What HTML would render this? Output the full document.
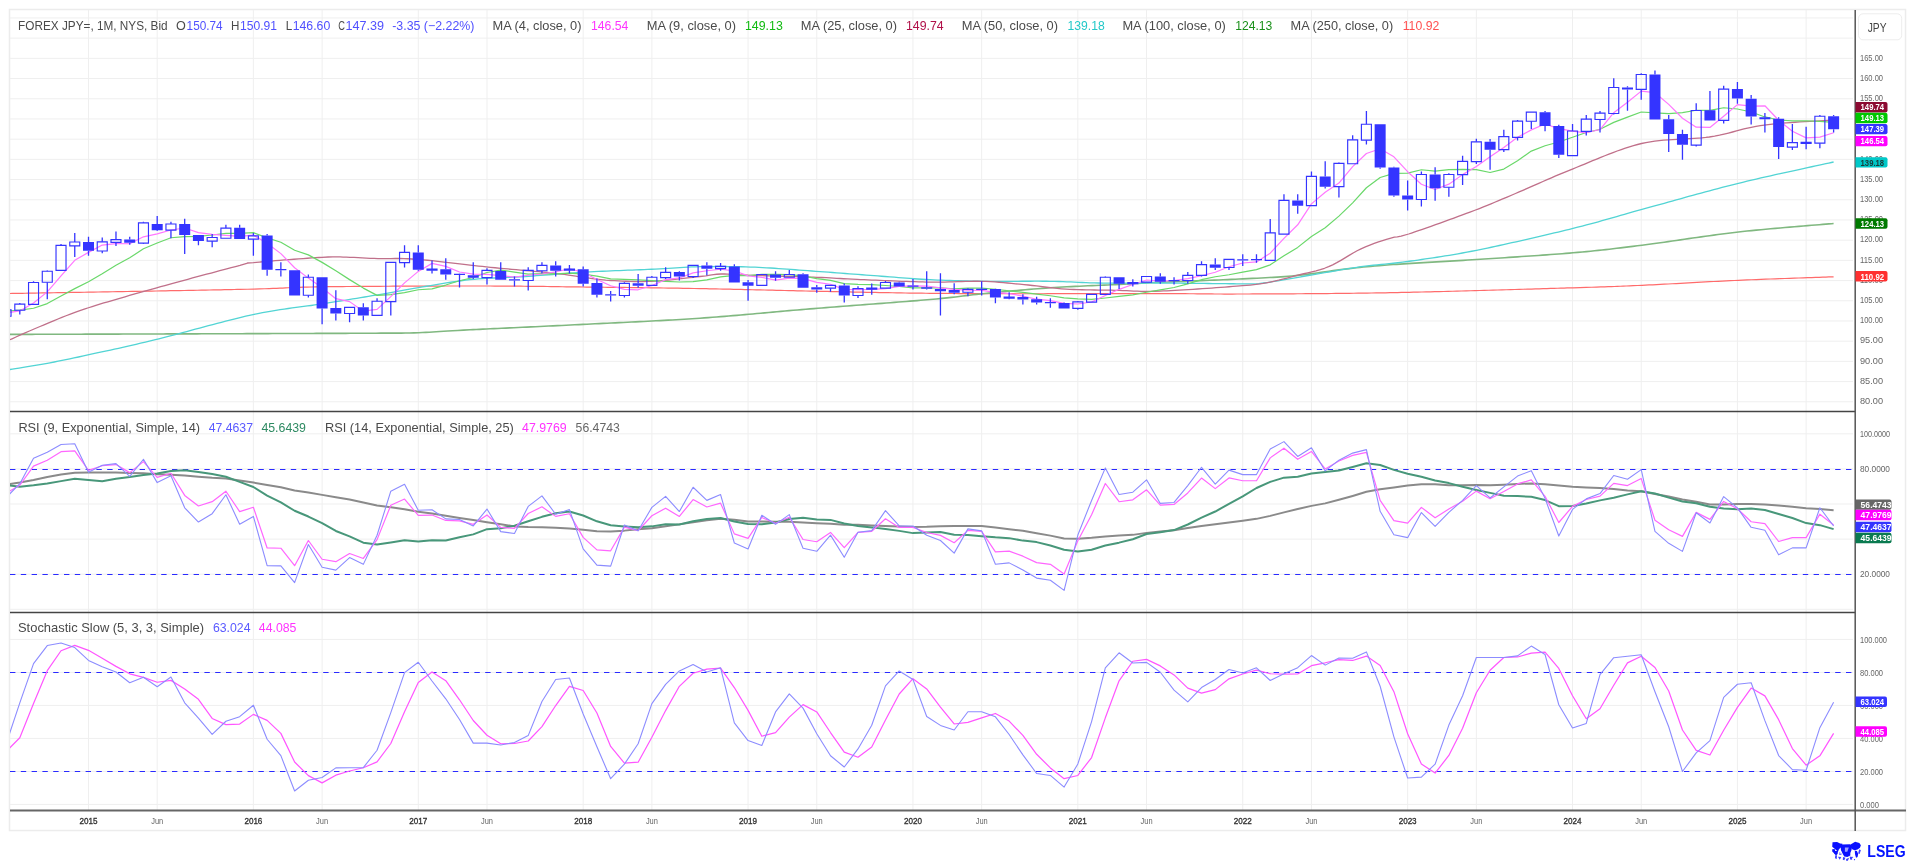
<!DOCTYPE html>
<html><head><meta charset="utf-8"><style>
html,body{margin:0;padding:0;background:#fff;width:1916px;height:862px;overflow:hidden;position:relative}
svg{will-change:transform}
</style></head><body>
<svg width="1916" height="862" viewBox="0 0 1916 862" style="position:absolute;left:0;top:0"><defs><clipPath id="cm"><rect x="10" y="10" width="1845" height="401"/></clipPath><clipPath id="cr"><rect x="10" y="412" width="1845" height="200"/></clipPath><clipPath id="cs"><rect x="10" y="613" width="1845" height="197"/></clipPath></defs><rect width="1916" height="862" fill="#fff"/><rect x="9.5" y="9.5" width="1896.0" height="821.0" fill="none" stroke="#ececec" stroke-width="1.5"/><path d="M10 401.78H1853M10 381.57H1853M10 361.37H1853M10 341.17H1853M10 320.97H1853M10 300.77H1853M10 280.57H1853M10 260.37H1853M10 240.16H1853M10 219.96H1853M10 199.76H1853M10 179.56H1853M10 159.36H1853M10 139.16H1853M10 118.95H1853M10 98.75H1853M10 78.55H1853M10 58.35H1853M10 38.15H1853M10 17.95H1853M10 433.8H1853M10 468.9H1853M10 504H1853M10 539.1H1853M10 574.2H1853M10 609.3H1853M10 639.4H1853M10 672.4H1853M10 705.4H1853M10 738.4H1853M10 771.4H1853M10 804.4H1853M88.5 10V810M157.2 10V810M253.39 10V810M322.1 10V810M418.28 10V810M486.99 10V810M583.18 10V810M651.88 10V810M748.07 10V810M816.77 10V810M912.96 10V810M981.66 10V810M1077.85 10V810M1146.56 10V810M1242.74 10V810M1311.45 10V810M1407.64 10V810M1476.34 10V810M1572.53 10V810M1641.23 10V810M1737.42 10V810M1806.12 10V810" stroke="#efefef" stroke-width="1" fill="none"/><path d="M10 469.5H1856M10 672.5H1856M10 574.5H1856M10 771.5H1856" stroke="#2a2aff" stroke-width="1.2" stroke-dasharray="5.4 5.4" fill="none"/><g clip-path="url(#cm)"><path d="M10 293.5 L12.11 293.46 L14.4 293.42 L16.87 293.38 L19.5 293.33 L22.3 293.28 L25.25 293.23 L28.36 293.18 L31.61 293.12 L34.99 293.07 L38.51 293.01 L42.16 292.94 L45.92 292.88 L49.8 292.81 L53.78 292.75 L57.87 292.68 L62.05 292.6 L66.33 292.53 L70.68 292.46 L75.11 292.38 L79.61 292.3 L84.18 292.23 L88.81 292.15 L93.48 292.07 L98.21 291.99 L102.97 291.9 L107.77 291.82 L112.6 291.74 L117.44 291.65 L122.31 291.57 L127.18 291.49 L132.06 291.4 L136.93 291.32 L141.8 291.23 L146.65 291.15 L151.48 291.06 L156.28 290.98 L161.05 290.89 L165.78 290.81 L170.46 290.72 L175.09 290.64 L179.67 290.56 L184.18 290.48 L188.62 290.4 L192.98 290.32 L197.26 290.24 L201.46 290.16 L205.56 290.08 L209.56 290.01 L213.45 289.93 L217.23 289.86 L220.89 289.79 L224.42 289.72 L227.82 289.65 L231.09 289.59 L234.21 289.52 L237.18 289.46 L240 289.4 L247.35 289.23 L253.85 289.07 L259.59 288.91 L264.66 288.76 L269.12 288.6 L273.08 288.45 L276.62 288.31 L279.81 288.17 L282.74 288.03 L285.5 287.89 L288.17 287.76 L290.83 287.64 L293.57 287.52 L296.48 287.4 L299.62 287.29 L303.1 287.18 L307 287.08 L311.39 286.98 L316.36 286.89 L322 286.8 L325.14 286.76 L328.42 286.72 L331.81 286.67 L335.33 286.64 L338.95 286.6 L342.67 286.56 L346.49 286.52 L350.41 286.49 L354.4 286.46 L358.47 286.42 L362.61 286.39 L366.81 286.36 L371.07 286.33 L375.38 286.31 L379.74 286.28 L384.13 286.25 L388.55 286.23 L392.99 286.21 L397.45 286.19 L401.92 286.16 L406.4 286.15 L410.87 286.13 L415.33 286.11 L419.78 286.09 L424.2 286.08 L428.59 286.07 L432.95 286.05 L437.26 286.04 L441.53 286.03 L445.74 286.02 L449.88 286.02 L453.96 286.01 L457.96 286.01 L461.88 286 L465.71 286 L469.44 286 L473.07 286 L476.59 286 L480 286 L485.12 286.01 L490.06 286.02 L494.83 286.03 L499.43 286.05 L503.9 286.08 L508.23 286.1 L512.44 286.13 L516.54 286.17 L520.55 286.2 L524.49 286.24 L528.36 286.28 L532.17 286.33 L535.95 286.37 L539.7 286.42 L543.43 286.47 L547.17 286.52 L550.92 286.57 L554.7 286.63 L558.51 286.68 L562.38 286.73 L566.32 286.79 L570.34 286.84 L574.45 286.89 L578.66 286.95 L583 287 L586.74 287.04 L590.4 287.09 L593.98 287.13 L597.49 287.16 L600.96 287.2 L604.38 287.24 L607.77 287.28 L611.15 287.31 L614.52 287.35 L617.91 287.39 L621.31 287.42 L624.75 287.46 L628.23 287.5 L631.77 287.55 L635.38 287.59 L639.07 287.64 L642.85 287.69 L646.74 287.74 L650.75 287.8 L654.88 287.85 L659.17 287.92 L663.6 287.99 L668.2 288.06 L672.98 288.13 L677.96 288.22 L683.13 288.3 L688.52 288.4 L694.14 288.49 L700 288.6 L703.08 288.66 L706.22 288.72 L709.44 288.78 L712.71 288.85 L716.05 288.91 L719.45 288.99 L722.91 289.06 L726.42 289.14 L729.99 289.21 L733.61 289.3 L737.28 289.38 L741.01 289.46 L744.78 289.55 L748.59 289.64 L752.45 289.73 L756.36 289.82 L760.3 289.91 L764.28 290.01 L768.3 290.1 L772.35 290.2 L776.43 290.29 L780.55 290.39 L784.7 290.49 L788.87 290.59 L793.07 290.68 L797.29 290.78 L801.53 290.88 L805.8 290.98 L810.08 291.08 L814.38 291.18 L818.69 291.28 L823.02 291.38 L827.36 291.47 L831.71 291.57 L836.06 291.66 L840.42 291.76 L844.78 291.85 L849.15 291.94 L853.51 292.04 L857.88 292.12 L862.24 292.21 L866.59 292.3 L870.94 292.38 L875.28 292.46 L879.6 292.54 L883.92 292.62 L888.22 292.7 L892.5 292.77 L896.76 292.84 L901.01 292.91 L905.23 292.98 L909.43 293.04 L913.6 293.1 L917.75 293.15 L921.86 293.21 L925.95 293.25 L930 293.3 L934.06 293.34 L938.16 293.38 L942.3 293.42 L946.48 293.45 L950.69 293.49 L954.94 293.52 L959.22 293.54 L963.53 293.57 L967.86 293.59 L972.22 293.61 L976.6 293.63 L981 293.65 L985.42 293.67 L989.85 293.68 L994.29 293.69 L998.74 293.7 L1003.2 293.71 L1007.66 293.72 L1012.13 293.72 L1016.59 293.73 L1021.05 293.73 L1025.51 293.73 L1029.96 293.73 L1034.41 293.73 L1038.84 293.73 L1043.25 293.73 L1047.65 293.72 L1052.03 293.72 L1056.39 293.72 L1060.72 293.71 L1065.03 293.71 L1069.31 293.7 L1073.56 293.69 L1077.77 293.69 L1081.95 293.68 L1086.09 293.67 L1090.19 293.66 L1094.25 293.66 L1098.26 293.65 L1102.23 293.64 L1106.14 293.63 L1110 293.63 L1113.81 293.62 L1117.56 293.61 L1121.25 293.61 L1124.88 293.6 L1128.44 293.6 L1131.94 293.59 L1135.36 293.59 L1138.72 293.59 L1142 293.59 L1145.21 293.59 L1148.33 293.59 L1151.38 293.59 L1154.34 293.59 L1157.21 293.59 L1160 293.6 L1167.38 293.62 L1173.94 293.64 L1179.76 293.67 L1184.92 293.7 L1189.5 293.73 L1193.57 293.77 L1197.23 293.8 L1200.54 293.83 L1203.59 293.87 L1206.46 293.9 L1209.23 293.93 L1211.97 293.96 L1214.77 293.98 L1217.7 294 L1220.85 294.02 L1224.29 294.03 L1228.11 294.03 L1232.38 294.03 L1237.18 294.02 L1242.6 294 L1245.83 293.99 L1249.13 293.98 L1252.5 293.96 L1255.94 293.95 L1259.44 293.94 L1263 293.92 L1266.63 293.91 L1270.32 293.89 L1274.06 293.88 L1277.86 293.86 L1281.71 293.84 L1285.61 293.83 L1289.57 293.81 L1293.57 293.78 L1297.62 293.76 L1301.71 293.74 L1305.85 293.71 L1310.02 293.68 L1314.24 293.65 L1318.49 293.62 L1322.78 293.58 L1327.1 293.55 L1331.45 293.51 L1335.83 293.46 L1340.24 293.42 L1344.67 293.37 L1349.13 293.32 L1353.61 293.26 L1358.11 293.21 L1362.62 293.14 L1367.16 293.08 L1371.7 293.01 L1376.26 292.94 L1380.83 292.86 L1385.41 292.78 L1390 292.7 L1393.72 292.63 L1397.52 292.55 L1401.4 292.47 L1405.36 292.39 L1409.4 292.3 L1413.5 292.21 L1417.66 292.11 L1421.88 292.01 L1426.15 291.91 L1430.46 291.81 L1434.82 291.7 L1439.22 291.59 L1443.65 291.48 L1448.11 291.36 L1452.59 291.24 L1457.08 291.13 L1461.59 291.01 L1466.11 290.88 L1470.63 290.76 L1475.15 290.64 L1479.66 290.51 L1484.16 290.39 L1488.64 290.26 L1493.1 290.14 L1497.53 290.01 L1501.93 289.89 L1506.3 289.76 L1510.62 289.64 L1514.9 289.51 L1519.13 289.39 L1523.3 289.27 L1527.4 289.15 L1531.45 289.03 L1535.42 288.91 L1539.31 288.8 L1543.13 288.68 L1546.85 288.57 L1550.49 288.47 L1554.03 288.36 L1557.48 288.26 L1560.81 288.16 L1564.04 288.06 L1567.15 287.97 L1570.14 287.88 L1573 287.8 L1579.98 287.59 L1586.17 287.41 L1591.65 287.25 L1596.5 287.1 L1600.81 286.97 L1604.67 286.84 L1608.17 286.72 L1611.38 286.61 L1614.41 286.5 L1617.32 286.39 L1620.22 286.27 L1623.18 286.15 L1626.29 286.01 L1629.65 285.86 L1633.32 285.69 L1637.41 285.51 L1642 285.3 L1645.49 285.14 L1649.08 284.97 L1652.75 284.78 L1656.49 284.59 L1660.32 284.4 L1664.2 284.19 L1668.15 283.98 L1672.15 283.76 L1676.2 283.54 L1680.29 283.32 L1684.41 283.09 L1688.56 282.86 L1692.74 282.63 L1696.93 282.4 L1701.13 282.18 L1705.34 281.95 L1709.55 281.72 L1713.74 281.5 L1717.92 281.29 L1722.09 281.08 L1726.22 280.87 L1730.32 280.67 L1734.38 280.48 L1738.4 280.3 L1742.65 280.11 L1747.05 279.93 L1751.58 279.74 L1756.22 279.56 L1760.94 279.37 L1765.71 279.19 L1770.53 279.01 L1775.36 278.83 L1780.18 278.66 L1784.96 278.49 L1789.69 278.32 L1794.34 278.16 L1798.88 278 L1803.3 277.85 L1807.58 277.7 L1811.68 277.56 L1815.58 277.43 L1819.26 277.3 L1822.71 277.18 L1825.89 277.07 L1828.78 276.97 L1831.36 276.88 L1833.6 276.8" stroke="#ff6b6b" stroke-width="1.2" fill="none" stroke-linejoin="round" opacity="1.0"/><path d="M10 334.4 L12.11 334.39 L14.43 334.39 L16.93 334.38 L19.62 334.37 L22.48 334.36 L25.51 334.35 L28.7 334.34 L32.04 334.33 L35.53 334.32 L39.15 334.31 L42.89 334.3 L46.76 334.29 L50.73 334.28 L54.82 334.27 L58.99 334.25 L63.26 334.24 L67.6 334.23 L72.01 334.22 L76.49 334.2 L81.03 334.19 L85.61 334.17 L90.23 334.16 L94.88 334.15 L99.56 334.13 L104.25 334.12 L108.96 334.1 L113.66 334.09 L118.35 334.08 L123.03 334.06 L127.68 334.05 L132.3 334.03 L136.88 334.02 L141.41 334.01 L145.89 333.99 L150.31 333.98 L154.65 333.96 L158.91 333.95 L163.08 333.94 L167.16 333.92 L171.14 333.91 L175 333.9 L179.35 333.89 L183.75 333.87 L188.18 333.86 L192.63 333.84 L197.12 333.83 L201.62 333.81 L206.14 333.8 L210.66 333.78 L215.2 333.77 L219.73 333.75 L224.26 333.74 L228.78 333.72 L233.28 333.71 L237.77 333.69 L242.24 333.68 L246.67 333.66 L251.07 333.65 L255.44 333.63 L259.76 333.62 L264.03 333.6 L268.25 333.59 L272.42 333.57 L276.52 333.56 L280.56 333.54 L284.52 333.53 L288.41 333.52 L292.21 333.5 L295.93 333.49 L299.56 333.48 L303.09 333.47 L306.52 333.45 L309.85 333.44 L313.06 333.43 L316.16 333.42 L319.14 333.41 L322 333.4 L329.23 333.38 L335.54 333.36 L341.05 333.34 L345.85 333.33 L350.07 333.31 L353.81 333.3 L357.18 333.3 L360.3 333.29 L363.28 333.27 L366.23 333.26 L369.26 333.24 L372.48 333.22 L376 333.2 L380.68 333.17 L385.09 333.16 L389.31 333.15 L393.4 333.14 L397.41 333.12 L401.4 333.09 L405.45 333.04 L409.61 332.96 L413.94 332.85 L418.5 332.7 L422.28 332.55 L425.85 332.38 L429.3 332.2 L432.72 332 L436.21 331.79 L439.84 331.56 L443.73 331.31 L447.94 331.04 L452.59 330.76 L457.75 330.46 L463.53 330.14 L470 329.8 L473.01 329.65 L476.17 329.49 L479.46 329.33 L482.88 329.17 L486.42 329 L490.07 328.82 L493.83 328.64 L497.69 328.46 L501.63 328.28 L505.65 328.09 L509.75 327.9 L513.92 327.7 L518.14 327.51 L522.41 327.31 L526.72 327.1 L531.06 326.9 L535.44 326.7 L539.83 326.49 L544.23 326.28 L548.63 326.07 L553.03 325.86 L557.41 325.66 L561.77 325.45 L566.11 325.24 L570.41 325.03 L574.66 324.82 L578.86 324.61 L583 324.4 L586.97 324.2 L590.96 324 L594.97 323.81 L598.99 323.61 L603.02 323.42 L607.07 323.22 L611.12 323.03 L615.18 322.83 L619.25 322.64 L623.32 322.44 L627.4 322.25 L631.48 322.05 L635.56 321.85 L639.65 321.65 L643.73 321.44 L647.81 321.24 L651.88 321.03 L655.95 320.81 L660.02 320.6 L664.07 320.38 L668.12 320.16 L672.16 319.93 L676.18 319.7 L680.19 319.46 L684.19 319.22 L688.17 318.97 L692.13 318.72 L696.08 318.46 L700 318.2 L704.19 317.91 L708.35 317.61 L712.47 317.3 L716.58 316.99 L720.66 316.67 L724.72 316.34 L728.77 316.01 L732.8 315.67 L736.81 315.33 L740.82 314.99 L744.82 314.64 L748.82 314.28 L752.82 313.93 L756.81 313.57 L760.81 313.21 L764.81 312.85 L768.83 312.49 L772.85 312.12 L776.89 311.76 L780.94 311.4 L785.02 311.03 L789.11 310.67 L793.23 310.31 L797.38 309.95 L801.55 309.6 L805.76 309.25 L810 308.9 L813.88 308.59 L817.84 308.27 L821.89 307.95 L826 307.63 L830.17 307.3 L834.4 306.97 L838.67 306.64 L842.98 306.31 L847.31 305.98 L851.67 305.65 L856.03 305.32 L860.4 304.98 L864.76 304.65 L869.11 304.32 L873.44 303.99 L877.73 303.67 L881.99 303.34 L886.2 303.02 L890.35 302.7 L894.44 302.39 L898.46 302.07 L902.4 301.77 L906.25 301.46 L910 301.16 L913.65 300.87 L917.18 300.58 L920.59 300.3 L923.87 300.03 L927.01 299.76 L930 299.5 L936.33 298.93 L941.94 298.39 L946.93 297.88 L951.39 297.39 L955.43 296.93 L959.16 296.49 L962.67 296.05 L966.08 295.63 L969.47 295.21 L972.96 294.79 L976.64 294.37 L980.62 293.94 L985 293.5 L988.79 293.13 L992.65 292.76 L996.57 292.38 L1000.55 292 L1004.57 291.61 L1008.64 291.23 L1012.75 290.85 L1016.88 290.47 L1021.02 290.1 L1025.19 289.74 L1029.35 289.39 L1033.52 289.04 L1037.67 288.71 L1041.81 288.39 L1045.92 288.09 L1050 287.8 L1054.1 287.53 L1058.26 287.27 L1062.47 287.03 L1066.72 286.8 L1070.98 286.59 L1075.25 286.38 L1079.51 286.18 L1083.75 285.99 L1087.95 285.8 L1092.09 285.62 L1096.16 285.45 L1100.16 285.28 L1104.05 285.11 L1107.83 284.94 L1111.49 284.77 L1115 284.6 L1119.7 284.36 L1123.89 284.14 L1127.7 283.94 L1131.25 283.74 L1134.69 283.56 L1138.13 283.37 L1141.71 283.18 L1145.56 282.98 L1149.8 282.77 L1154.57 282.55 L1160 282.3 L1163.32 282.15 L1166.87 282 L1170.63 281.85 L1174.58 281.69 L1178.69 281.52 L1182.94 281.36 L1187.29 281.19 L1191.73 281.01 L1196.24 280.84 L1200.78 280.66 L1205.32 280.48 L1209.86 280.31 L1214.35 280.13 L1218.78 279.95 L1223.12 279.77 L1227.35 279.59 L1231.43 279.42 L1235.35 279.24 L1239.08 279.07 L1242.6 278.9 L1247.68 278.65 L1252.47 278.42 L1257.01 278.2 L1261.33 277.98 L1265.47 277.77 L1269.45 277.55 L1273.32 277.33 L1277.11 277.1 L1280.85 276.85 L1284.58 276.58 L1288.32 276.28 L1292.12 275.96 L1296 275.6 L1300.25 275.16 L1304.47 274.68 L1308.65 274.15 L1312.81 273.59 L1316.93 273.01 L1321.03 272.41 L1325.09 271.81 L1329.13 271.22 L1333.13 270.65 L1337.12 270.09 L1341.07 269.57 L1345 269.1 L1349.09 268.63 L1352.86 268.2 L1356.44 267.8 L1359.91 267.42 L1363.39 267.05 L1366.96 266.7 L1370.75 266.34 L1374.84 265.99 L1379.35 265.61 L1384.37 265.22 L1390 264.8 L1393.21 264.57 L1396.58 264.34 L1400.09 264.11 L1403.74 263.87 L1407.51 263.64 L1411.4 263.4 L1415.39 263.16 L1419.47 262.92 L1423.64 262.67 L1427.89 262.42 L1432.19 262.17 L1436.55 261.92 L1440.95 261.67 L1445.39 261.41 L1449.85 261.15 L1454.32 260.88 L1458.79 260.61 L1463.26 260.34 L1467.7 260.06 L1472.12 259.78 L1476.5 259.5 L1480.35 259.25 L1484.28 258.99 L1488.27 258.74 L1492.32 258.47 L1496.42 258.21 L1500.57 257.94 L1504.74 257.68 L1508.94 257.4 L1513.16 257.13 L1517.39 256.85 L1521.62 256.57 L1525.84 256.29 L1530.05 256.01 L1534.23 255.73 L1538.39 255.44 L1542.5 255.15 L1546.57 254.86 L1550.57 254.57 L1554.52 254.28 L1558.39 253.98 L1562.19 253.69 L1565.89 253.39 L1569.5 253.1 L1573 252.8 L1577.73 252.39 L1582.21 251.98 L1586.47 251.58 L1590.55 251.19 L1594.47 250.8 L1598.28 250.41 L1602 250.01 L1605.68 249.61 L1609.33 249.2 L1613.01 248.77 L1616.73 248.33 L1620.54 247.87 L1624.46 247.39 L1628.54 246.89 L1632.8 246.36 L1637.27 245.79 L1642 245.2 L1645.49 244.75 L1649.08 244.28 L1652.75 243.79 L1656.49 243.27 L1660.32 242.73 L1664.2 242.18 L1668.15 241.62 L1672.15 241.04 L1676.2 240.45 L1680.29 239.86 L1684.41 239.26 L1688.56 238.66 L1692.74 238.05 L1696.93 237.45 L1701.13 236.85 L1705.34 236.26 L1709.55 235.67 L1713.74 235.1 L1717.92 234.54 L1722.09 233.99 L1726.22 233.46 L1730.32 232.95 L1734.38 232.46 L1738.4 232 L1742.65 231.53 L1747.05 231.06 L1751.58 230.6 L1756.22 230.14 L1760.94 229.68 L1765.71 229.23 L1770.53 228.79 L1775.36 228.36 L1780.18 227.94 L1784.96 227.52 L1789.69 227.12 L1794.34 226.73 L1798.88 226.35 L1803.3 225.99 L1807.58 225.64 L1811.68 225.31 L1815.58 224.99 L1819.26 224.7 L1822.71 224.42 L1825.89 224.15 L1828.78 223.91 L1831.36 223.7 L1833.6 223.5" stroke="#80b880" stroke-width="1.6" fill="none" stroke-linejoin="round" opacity="1.0"/><path d="M10 369.5 L12.38 369.11 L15.46 368.61 L19.09 368.03 L23.17 367.37 L27.56 366.66 L32.15 365.9 L36.81 365.12 L41.42 364.34 L45.86 363.56 L50 362.8 L54.23 362 L58.21 361.23 L62.06 360.46 L65.9 359.67 L69.84 358.85 L74.01 357.96 L78.51 356.99 L83.47 355.91 L89 354.7 L92.34 353.97 L95.78 353.22 L99.31 352.46 L102.94 351.67 L106.68 350.86 L110.52 350.02 L114.47 349.16 L118.54 348.26 L122.72 347.33 L127.01 346.37 L131.43 345.37 L135.96 344.32 L140.63 343.24 L145.42 342.11 L150.34 340.93 L155.4 339.7 L158.89 338.84 L162.53 337.92 L166.3 336.95 L170.19 335.93 L174.19 334.88 L178.28 333.8 L182.45 332.68 L186.68 331.55 L190.97 330.39 L195.3 329.23 L199.66 328.06 L204.04 326.88 L208.41 325.71 L212.78 324.55 L217.12 323.4 L221.43 322.27 L225.69 321.17 L229.88 320.1 L234 319.06 L238.03 318.07 L241.96 317.12 L245.77 316.22 L249.45 315.38 L253 314.6 L257.83 313.59 L262.52 312.67 L267.08 311.83 L271.52 311.05 L275.85 310.34 L280.07 309.68 L284.2 309.07 L288.24 308.5 L292.2 307.97 L296.08 307.45 L299.91 306.96 L303.68 306.47 L307.4 305.98 L311.09 305.49 L314.74 304.98 L318.38 304.46 L322 303.9 L326.68 303.16 L331.25 302.43 L335.72 301.71 L340.1 301.01 L344.39 300.32 L348.59 299.64 L352.71 298.97 L356.75 298.3 L360.72 297.65 L364.63 297 L368.48 296.36 L372.26 295.73 L376 295.1 L380.68 294.3 L385.09 293.52 L389.31 292.77 L393.4 292.03 L397.41 291.29 L401.4 290.57 L405.45 289.84 L409.61 289.1 L413.94 288.36 L418.5 287.6 L422.47 286.94 L426.52 286.25 L430.66 285.54 L434.87 284.82 L439.14 284.1 L443.47 283.38 L447.84 282.68 L452.24 282 L456.67 281.35 L461.11 280.75 L465.56 280.2 L470 279.7 L474.09 279.3 L478.17 278.96 L482.25 278.67 L486.34 278.41 L490.44 278.19 L494.58 277.99 L498.75 277.8 L502.96 277.62 L507.22 277.43 L511.55 277.24 L515.95 277.02 L520.43 276.78 L525 276.5 L528.79 276.25 L532.65 275.98 L536.57 275.7 L540.55 275.41 L544.57 275.11 L548.64 274.8 L552.75 274.49 L556.88 274.18 L561.02 273.86 L565.19 273.55 L569.35 273.25 L573.52 272.96 L577.67 272.67 L581.81 272.4 L585.92 272.14 L590 271.9 L594.1 271.67 L598.26 271.46 L602.47 271.26 L606.72 271.06 L610.98 270.88 L615.25 270.7 L619.51 270.53 L623.75 270.36 L627.95 270.2 L632.09 270.04 L636.16 269.89 L640.16 269.73 L644.05 269.57 L647.83 269.42 L651.49 269.26 L655 269.1 L659.8 268.86 L664.26 268.6 L668.44 268.34 L672.42 268.08 L676.24 267.82 L680 267.57 L683.74 267.34 L687.55 267.13 L691.48 266.95 L695.61 266.81 L700 266.7 L703.88 266.63 L707.81 266.58 L711.8 266.54 L715.86 266.51 L719.97 266.5 L724.14 266.51 L728.37 266.54 L732.66 266.59 L737.01 266.66 L741.42 266.76 L745.89 266.88 L750.41 267.03 L755 267.2 L758.79 267.37 L762.65 267.56 L766.57 267.78 L770.55 268.01 L774.57 268.27 L778.64 268.54 L782.75 268.83 L786.88 269.12 L791.02 269.43 L795.19 269.74 L799.35 270.06 L803.52 270.37 L807.67 270.69 L811.81 271 L815.92 271.3 L820 271.6 L824.1 271.9 L828.26 272.2 L832.47 272.51 L836.72 272.83 L840.98 273.15 L845.25 273.48 L849.51 273.8 L853.75 274.12 L857.95 274.45 L862.09 274.77 L866.16 275.08 L870.16 275.38 L874.05 275.68 L877.83 275.97 L881.49 276.24 L885 276.5 L889.8 276.86 L894.26 277.21 L898.44 277.54 L902.42 277.86 L906.24 278.16 L910 278.45 L913.74 278.73 L917.55 278.99 L921.48 279.24 L925.61 279.48 L930 279.7 L933.88 279.88 L937.81 280.05 L941.8 280.21 L945.86 280.36 L949.97 280.5 L954.14 280.64 L958.37 280.76 L962.66 280.87 L967.01 280.98 L971.42 281.07 L975.89 281.16 L980.41 281.23 L985 281.3 L988.82 281.34 L992.76 281.36 L996.8 281.37 L1000.93 281.37 L1005.12 281.36 L1009.36 281.34 L1013.63 281.32 L1017.9 281.29 L1022.16 281.27 L1026.39 281.25 L1030.56 281.23 L1034.67 281.22 L1038.68 281.22 L1042.59 281.23 L1046.37 281.26 L1050 281.3 L1054.58 281.39 L1058.9 281.5 L1063 281.65 L1066.94 281.8 L1070.76 281.97 L1074.53 282.15 L1078.27 282.33 L1082.06 282.5 L1085.93 282.65 L1089.95 282.8 L1094.15 282.91 L1098.6 283 L1102.28 283.05 L1105.98 283.08 L1109.72 283.1 L1113.5 283.1 L1117.33 283.1 L1121.22 283.08 L1125.17 283.07 L1129.2 283.05 L1133.3 283.02 L1137.49 283 L1141.77 282.99 L1146.16 282.98 L1150.65 282.97 L1155.26 282.98 L1160 283 L1163.72 283.02 L1167.68 283.05 L1171.83 283.09 L1176.15 283.13 L1180.6 283.18 L1185.16 283.23 L1189.79 283.28 L1194.47 283.34 L1199.15 283.39 L1203.82 283.45 L1208.44 283.5 L1212.97 283.56 L1217.39 283.61 L1221.67 283.65 L1225.78 283.69 L1229.68 283.73 L1233.34 283.76 L1236.74 283.78 L1239.83 283.8 L1242.6 283.8 L1250.31 283.86 L1254.14 283.95 L1256.22 283.93 L1258.7 283.66 L1263.7 283 L1266.79 282.58 L1270.22 282.06 L1273.94 281.47 L1277.89 280.81 L1282.04 280.1 L1286.33 279.36 L1290.72 278.58 L1295.15 277.8 L1299.59 277.02 L1303.97 276.25 L1308.26 275.5 L1312.4 274.8 L1316.46 274.11 L1320.53 273.41 L1324.6 272.7 L1328.68 271.99 L1332.76 271.27 L1336.83 270.56 L1340.9 269.86 L1344.95 269.18 L1348.99 268.52 L1353.02 267.88 L1357.02 267.27 L1361 266.7 L1365.23 266.14 L1369.29 265.66 L1373.25 265.23 L1377.15 264.85 L1381.06 264.48 L1385.02 264.11 L1389.1 263.71 L1393.34 263.27 L1397.8 262.77 L1402.53 262.19 L1407.6 261.5 L1411.03 261.01 L1414.52 260.52 L1418.07 260.02 L1421.69 259.5 L1425.39 258.97 L1429.16 258.42 L1433.01 257.85 L1436.93 257.25 L1440.95 256.63 L1445.05 255.97 L1449.24 255.29 L1453.53 254.56 L1457.92 253.8 L1462.4 252.99 L1466.99 252.14 L1471.69 251.25 L1476.5 250.3 L1480.02 249.59 L1483.66 248.84 L1487.43 248.05 L1491.3 247.24 L1495.27 246.39 L1499.33 245.51 L1503.45 244.61 L1507.64 243.69 L1511.87 242.74 L1516.14 241.79 L1520.44 240.82 L1524.74 239.84 L1529.05 238.85 L1533.34 237.86 L1537.61 236.87 L1541.85 235.88 L1546.03 234.9 L1550.16 233.92 L1554.22 232.96 L1558.19 232.01 L1562.06 231.07 L1565.83 230.16 L1569.48 229.27 L1573 228.4 L1577.73 227.22 L1582.21 226.08 L1586.47 224.96 L1590.55 223.88 L1594.47 222.82 L1598.28 221.77 L1602 220.72 L1605.68 219.68 L1609.33 218.64 L1613.01 217.58 L1616.73 216.51 L1620.54 215.42 L1624.46 214.3 L1628.54 213.14 L1632.8 211.94 L1637.27 210.7 L1642 209.4 L1645.49 208.44 L1649.08 207.46 L1652.75 206.44 L1656.49 205.41 L1660.32 204.34 L1664.2 203.26 L1668.15 202.16 L1672.15 201.05 L1676.2 199.92 L1680.29 198.79 L1684.41 197.64 L1688.56 196.49 L1692.74 195.34 L1696.93 194.19 L1701.13 193.05 L1705.34 191.91 L1709.55 190.78 L1713.74 189.65 L1717.92 188.55 L1722.09 187.45 L1726.22 186.38 L1730.32 185.33 L1734.38 184.3 L1738.4 183.3 L1742.65 182.26 L1747.05 181.2 L1751.58 180.13 L1756.22 179.04 L1760.94 177.96 L1765.71 176.87 L1770.53 175.78 L1775.36 174.7 L1780.18 173.62 L1784.96 172.57 L1789.69 171.53 L1794.34 170.51 L1798.88 169.53 L1803.3 168.57 L1807.58 167.64 L1811.68 166.76 L1815.58 165.92 L1819.26 165.12 L1822.71 164.38 L1825.89 163.69 L1828.78 163.06 L1831.36 162.5 L1833.6 162" stroke="#52d4d4" stroke-width="1.3" fill="none" stroke-linejoin="round" opacity="1.0"/><path d="M10 339.7 L12.58 338.55 L15.95 337.02 L19.97 335.2 L24.52 333.16 L29.46 330.98 L34.66 328.73 L40 326.5 L43.43 325.08 L46.91 323.62 L50.47 322.11 L54.14 320.57 L57.94 318.99 L61.89 317.38 L66.04 315.74 L70.4 314.07 L74.99 312.37 L79.85 310.65 L85 308.9 L88.5 307.75 L92.14 306.59 L95.91 305.4 L99.79 304.2 L103.78 302.99 L107.87 301.76 L112.04 300.53 L116.3 299.28 L120.63 298.02 L125.02 296.76 L129.46 295.48 L133.95 294.21 L138.47 292.93 L143.01 291.65 L147.57 290.36 L152.14 289.08 L156.7 287.8 L160.69 286.69 L164.87 285.52 L169.23 284.32 L173.73 283.09 L178.35 281.83 L183.04 280.56 L187.78 279.28 L192.54 277.99 L197.28 276.72 L201.99 275.46 L206.62 274.22 L211.15 273.01 L215.54 271.84 L219.77 270.72 L223.81 269.65 L227.62 268.65 L231.18 267.71 L234.44 266.85 L237.4 266.08 L240 265.4 L247.63 263.11 L247.51 262.99 L253.5 262.6 L256.16 262.34 L259.29 262.06 L262.82 261.75 L266.69 261.41 L270.85 261.06 L275.24 260.7 L279.81 260.33 L284.48 259.96 L289.21 259.59 L293.94 259.23 L298.6 258.88 L303.14 258.55 L307.5 258.24 L311.63 257.95 L315.46 257.7 L318.94 257.48 L322 257.3 L328.13 257.01 L332.95 256.88 L336.83 256.86 L340.13 256.93 L343.18 257.05 L346.35 257.19 L350 257.3 L354.02 257.43 L358.06 257.61 L362.1 257.83 L366.14 258.07 L370.15 258.29 L374.1 258.47 L378 258.6 L382.43 258.65 L386.74 258.62 L391 258.55 L395.26 258.49 L399.57 258.49 L404 258.6 L407.81 258.77 L411.56 258.98 L415.34 259.23 L419.2 259.53 L423.21 259.87 L427.46 260.26 L432 260.7 L435.82 261.09 L439.91 261.55 L444.2 262.04 L448.61 262.56 L453.07 263.1 L457.51 263.64 L461.86 264.16 L466.05 264.65 L470 265.1 L474.56 265.61 L478.61 266.05 L482.43 266.47 L486.26 266.87 L490.4 267.3 L495.09 267.76 L500.6 268.3 L504.04 268.62 L507.82 268.97 L511.9 269.33 L516.2 269.71 L520.65 270.1 L525.2 270.49 L529.78 270.89 L534.31 271.3 L538.75 271.7 L543.03 272.09 L547.07 272.47 L550.81 272.84 L554.2 273.2 L559.67 273.84 L564.37 274.46 L568.51 275.06 L572.28 275.65 L575.89 276.22 L579.53 276.77 L583.4 277.3 L587.94 277.91 L592.24 278.52 L596.49 279.11 L600.9 279.64 L605.67 280.12 L611 280.5 L614.5 280.7 L618.16 280.9 L621.98 281.09 L625.93 281.26 L630 281.4 L634.17 281.5 L638.44 281.55 L642.77 281.54 L647.17 281.46 L651.6 281.3 L655.45 281.09 L659.53 280.8 L663.8 280.44 L668.17 280.03 L672.61 279.58 L677.03 279.11 L681.39 278.62 L685.61 278.14 L689.65 277.67 L693.43 277.23 L696.9 276.84 L700 276.5 L705.85 275.79 L710.08 275.16 L713.46 274.62 L716.81 274.23 L720.9 274 L724.48 273.98 L727.7 274.09 L731.07 274.31 L735.11 274.6 L740.35 274.91 L747.3 275.2 L750.31 275.3 L753.67 275.41 L757.34 275.52 L761.28 275.63 L765.44 275.75 L769.78 275.87 L774.25 276 L778.81 276.13 L783.42 276.26 L788.03 276.39 L792.6 276.52 L797.09 276.65 L801.44 276.79 L805.62 276.92 L809.59 277.05 L813.3 277.18 L816.7 277.3 L821.78 277.51 L826.15 277.71 L829.99 277.91 L833.47 278.11 L836.79 278.31 L840.13 278.52 L843.67 278.73 L847.59 278.94 L852.07 279.17 L857.3 279.4 L860.57 279.54 L864.09 279.69 L867.81 279.86 L871.71 280.03 L875.76 280.2 L879.94 280.39 L884.23 280.57 L888.58 280.75 L892.98 280.93 L897.39 281.11 L901.79 281.28 L906.16 281.44 L910.45 281.59 L914.66 281.72 L918.74 281.85 L922.68 281.95 L926.44 282.04 L930 282.1 L935.06 282.14 L939.9 282.12 L944.55 282.05 L949.04 281.94 L953.37 281.81 L957.58 281.66 L961.69 281.52 L965.71 281.39 L969.67 281.29 L973.59 281.24 L977.49 281.23 L981.4 281.3 L986.02 281.46 L990.49 281.68 L994.85 281.95 L999.1 282.27 L1003.29 282.62 L1007.43 283 L1011.54 283.39 L1015.66 283.8 L1019.8 284.2 L1024 284.6 L1028.19 285.02 L1032.33 285.48 L1036.42 285.97 L1040.51 286.47 L1044.6 286.98 L1048.72 287.48 L1052.9 287.95 L1057.16 288.39 L1061.52 288.78 L1066 289.1 L1069.85 289.32 L1073.81 289.5 L1077.85 289.64 L1081.96 289.76 L1086.12 289.85 L1090.31 289.93 L1094.51 290 L1098.7 290.05 L1102.87 290.11 L1106.98 290.16 L1111.03 290.22 L1115 290.3 L1119.1 290.41 L1122.92 290.55 L1126.54 290.71 L1130.08 290.88 L1133.61 291.04 L1137.23 291.18 L1141.04 291.28 L1145.12 291.34 L1149.58 291.34 L1154.51 291.26 L1160 291.1 L1163.35 290.97 L1166.98 290.8 L1170.88 290.61 L1174.99 290.39 L1179.3 290.14 L1183.75 289.88 L1188.32 289.6 L1192.97 289.3 L1197.67 288.99 L1202.39 288.68 L1207.08 288.35 L1211.72 288.03 L1216.26 287.7 L1220.68 287.38 L1224.94 287.07 L1229 286.76 L1232.83 286.47 L1236.4 286.2 L1239.67 285.94 L1242.6 285.7 L1250.4 285.03 L1255.94 284.47 L1259.95 283.97 L1263.17 283.45 L1266.34 282.85 L1270.2 282.1 L1274.53 281.21 L1278.68 280.24 L1282.79 279.18 L1286.96 278.05 L1291.33 276.86 L1296 275.6 L1299.75 274.66 L1303.68 273.75 L1307.74 272.83 L1311.89 271.86 L1316.09 270.8 L1320.3 269.61 L1324.49 268.26 L1328.6 266.7 L1332.68 264.84 L1336.79 262.68 L1340.91 260.32 L1345.02 257.85 L1349.11 255.37 L1353.14 252.97 L1357.11 250.74 L1361 248.8 L1365.41 246.86 L1369.84 245.08 L1374.21 243.46 L1378.48 241.98 L1382.57 240.63 L1386.43 239.41 L1390 238.3 L1394.38 237.2 L1397.28 236.86 L1401.18 236.17 L1408.6 234 L1411.49 233.04 L1414.79 231.92 L1418.45 230.67 L1422.41 229.3 L1426.61 227.83 L1431.01 226.28 L1435.54 224.67 L1440.15 223.02 L1444.78 221.36 L1449.39 219.7 L1453.9 218.05 L1458.28 216.45 L1462.46 214.92 L1466.38 213.46 L1470 212.1 L1474.9 210.24 L1479.34 208.52 L1483.43 206.9 L1487.28 205.35 L1491.03 203.82 L1494.76 202.26 L1498.61 200.65 L1502.69 198.93 L1507.12 197.06 L1512 195 L1515.5 193.52 L1519.12 191.96 L1522.86 190.33 L1526.71 188.64 L1530.64 186.91 L1534.67 185.13 L1538.76 183.33 L1542.93 181.5 L1547.14 179.65 L1551.4 177.8 L1555.69 175.96 L1560.01 174.13 L1564.34 172.32 L1568.67 170.54 L1573 168.8 L1576.84 167.26 L1580.73 165.67 L1584.66 164.04 L1588.64 162.39 L1592.65 160.72 L1596.69 159.05 L1600.75 157.38 L1604.83 155.73 L1608.93 154.11 L1613.04 152.53 L1617.15 151 L1621.26 149.54 L1625.36 148.14 L1629.45 146.83 L1633.52 145.61 L1637.58 144.5 L1641.6 143.5 L1645.9 142.58 L1650.28 141.81 L1654.72 141.16 L1659.19 140.63 L1663.69 140.19 L1668.19 139.83 L1672.67 139.53 L1677.12 139.28 L1681.52 139.05 L1685.84 138.85 L1690.08 138.64 L1694.21 138.41 L1698.22 138.15 L1702.08 137.84 L1705.78 137.46 L1709.3 137 L1714.58 136.13 L1719.5 135.18 L1724.1 134.15 L1728.43 133.08 L1732.53 132 L1736.45 130.93 L1740.23 129.9 L1743.92 128.93 L1747.56 128.06 L1751.2 127.3 L1756.04 126.41 L1760.31 125.69 L1764.27 125.1 L1768.19 124.6 L1772.34 124.14 L1776.99 123.69 L1782.4 123.2 L1786.13 122.89 L1790.37 122.58 L1794.99 122.26 L1799.88 121.95 L1804.91 121.64 L1809.95 121.34 L1814.88 121.06 L1819.59 120.8 L1823.93 120.55 L1827.8 120.34 L1831.06 120.15 L1833.6 120" stroke="#c0708a" stroke-width="1.3" fill="none" stroke-linejoin="round" opacity="1.0"/><path d="M-7.69 313.03 L6.05 311.03 L19.8 310.19 L33.54 308.25 L47.28 303.59 L61.02 295.97 L74.76 288.6 L88.5 281.76 L102.24 273.74 L115.98 265.24 L129.72 257.81 L143.46 248.79 L157.2 242.98 L170.95 237.73 L184.69 236.57 L198.43 236.47 L212.17 234.99 L225.91 233.45 L239.65 233.4 L253.39 232.62 L267.13 237.82 L280.87 242.24 L294.62 250.2 L308.36 254.89 L322.1 262.37 L335.84 270.82 L349.58 279.62 L363.32 288.1 L377.06 295.37 L390.8 294.56 L404.54 292.61 L418.28 289.73 L432.02 288.82 L445.77 285.05 L459.51 280.76 L473.25 277.48 L486.99 272.48 L500.73 270.08 L514.47 272.1 L528.21 274.1 L541.95 273.63 L555.69 273.81 L569.43 273.22 L583.18 274.21 L596.92 276.09 L610.66 278.87 L624.4 279.28 L638.14 279.86 L651.88 280.62 L665.62 281.39 L679.36 282.02 L693.1 281.61 L706.85 279.95 L720.59 276.81 L734.33 275.38 L748.07 275.64 L761.81 274.39 L775.55 274.45 L789.29 274.68 L803.03 275.94 L816.77 278.61 L830.51 280.45 L844.25 283.68 L858 284.35 L871.74 284.62 L885.48 285.51 L899.22 286.48 L912.96 287.81 L926.7 287.9 L940.44 287.94 L954.18 288.75 L967.92 288.09 L981.66 288.21 L995.41 289.26 L1009.15 290.92 L1022.89 292.36 L1036.63 294.13 L1050.37 295.75 L1064.11 297.83 L1077.85 298.86 L1091.59 299.4 L1105.33 298.01 L1119.08 296.47 L1132.82 294.83 L1146.56 292.27 L1160.3 289.96 L1174.04 287.53 L1187.78 283.85 L1201.52 279.7 L1215.26 276.75 L1229 274.77 L1242.74 272.15 L1256.48 269.66 L1270.23 264.83 L1283.97 255.8 L1297.71 247.4 L1311.45 236.41 L1325.19 227.74 L1338.93 216.14 L1352.67 202.86 L1366.41 187.76 L1380.15 177.45 L1393.89 173.31 L1407.64 173.2 L1421.38 169.73 L1435.12 171.05 L1448.86 169.7 L1462.6 169.47 L1476.34 169.69 L1490.08 172.51 L1503.82 169.09 L1517.56 160.81 L1531.31 151.11 L1545.05 145.74 L1558.79 142.03 L1572.53 137.2 L1586.27 132.51 L1600.01 129.32 L1613.75 122.41 L1627.49 117.16 L1641.23 111.98 L1654.97 112.79 L1668.71 113.67 L1682.46 112.56 L1696.2 110.28 L1709.94 110.43 L1723.68 107.76 L1737.42 108.98 L1751.16 111.98 L1764.9 116.94 L1778.64 120.01 L1792.38 120.96 L1806.12 120.73 L1819.87 121.36 L1833.61 122.35" stroke="#6ad86a" stroke-width="1.2" fill="none" stroke-linejoin="round" opacity="1.0"/><path d="M-7.69 312.7 L6.05 313.05 L19.8 310.96 L33.54 303.07 L47.28 291.87 L61.02 275.8 L74.76 260.29 L88.5 252.37 L102.24 245.03 L115.98 243.57 L129.72 243.77 L143.46 236.79 L157.2 233.86 L170.95 229.97 L184.69 228.02 L198.43 232.56 L212.17 234.39 L225.91 235.41 L239.65 236.42 L253.39 235.12 L267.13 243.16 L280.87 253.63 L294.62 267.76 L308.36 278.11 L322.1 287.81 L335.84 298.69 L349.58 301.62 L363.32 311.16 L377.06 309.37 L390.8 296.58 L404.54 282.86 L418.28 271.41 L432.02 263.38 L445.77 266.42 L459.51 272.02 L473.25 274.05 L486.99 274.38 L500.73 275.68 L514.47 277.1 L528.21 275.27 L541.95 274.01 L555.69 271.78 L569.43 268.94 L583.18 272.27 L596.92 279.57 L610.66 285.74 L624.4 289.32 L638.14 289.8 L651.88 285.46 L665.62 279.7 L679.36 277.95 L693.1 272.88 L706.85 270.76 L720.59 269.26 L734.33 270.81 L748.07 275.88 L761.81 277.3 L775.55 280.14 L789.29 278.11 L803.03 278.64 L816.77 282.37 L830.51 284.28 L844.25 289.52 L858 289.72 L871.74 289.4 L885.48 288.67 L899.22 286.43 L912.96 285.91 L926.7 286.03 L940.44 287.86 L954.18 289.4 L967.92 290.13 L981.66 290.41 L995.41 292.36 L1009.15 293.54 L1022.89 296.06 L1036.63 299.22 L1050.37 300.64 L1064.11 303.4 L1077.85 304.01 L1091.59 301.98 L1105.33 295.49 L1119.08 289.32 L1132.82 284.49 L1146.56 280.02 L1160.3 281.12 L1174.04 280.51 L1187.78 278.68 L1201.52 275.72 L1215.26 272.27 L1229 266.79 L1242.74 263.01 L1256.48 261.91 L1270.23 253.18 L1283.97 238.44 L1297.71 224.8 L1311.45 203.85 L1325.19 192.28 L1338.93 183.02 L1352.67 166.58 L1366.41 153.55 L1380.15 148.76 L1393.89 156.8 L1407.64 171.7 L1421.38 184.25 L1435.12 189.44 L1448.86 184.16 L1462.6 174.63 L1476.34 166.49 L1490.08 156.84 L1503.82 147.4 L1517.56 137.33 L1531.31 129.9 L1545.05 124.01 L1558.79 128.56 L1572.53 131.04 L1586.27 132.78 L1600.01 129.53 L1613.75 112.69 L1627.49 102.29 L1641.23 91.13 L1654.97 92.71 L1668.71 104.36 L1682.46 118.21 L1696.2 127.22 L1709.94 127.46 L1723.68 116.22 L1737.42 104.65 L1751.16 106.11 L1764.9 105.78 L1778.64 120.28 L1792.38 131.32 L1806.12 137.9 L1819.87 137.17 L1833.61 132.74" stroke="#ff77ff" stroke-width="1.2" fill="none" stroke-linejoin="round" opacity="1.0"/><path d="M6.05 309.74V309.74M6.05 316.23V316.23M19.8 302.92V304.05M19.8 310.22V314.61M33.54 281.32V282.46M33.54 304.38V304.38M47.28 270.44V271.25M47.28 282.29V299.18M61.02 243.97V245.43M61.02 270.44V270.44M74.76 232.93V242.02M74.76 245.92V256.96M88.5 236.66V242.02M88.5 250.79V255.66M102.24 237.48V241.86M102.24 250.95V253.23M115.98 231.47V239.59M115.98 242.35V246.08M129.72 236.66V239.59M129.72 242.83V244.78M143.46 221.73V222.86M143.46 243.16V243.97M157.2 215.88V224M157.2 230.17V230.98M170.95 221.73V224M170.95 230.17V238.29M184.69 218.8V224M184.69 235.04V254.04M198.43 235.04V235.04M198.43 241.05V245.27M212.17 233.9V237.48M212.17 241.05V247.22M225.91 224.81V228.06M225.91 238.29V238.29M239.65 224.81V227.73M239.65 239.1V239.1M253.39 232.93V235.85M253.39 239.1V255.66M267.13 233.9V235.53M267.13 269.63V275.64M280.87 262.16V268.95M280.87 270.15V276.45M294.62 270.28V270.28M294.62 295.61V295.61M308.36 274.5V277.26M308.36 295.28V297.56M322.1 277.26V277.26M322.1 308.44V324.35M335.84 290.25V308.11M335.84 313.47V320.62M349.58 307.3V307.3M349.58 313.47V322.24M363.32 303.24V307.3M363.32 315.42V320.62M377.06 298.37V301.29M377.06 315.42V315.42M390.8 262.32V262.32M390.8 301.62V315.42M404.54 245.27V252.42M404.54 262.65V267.52M418.28 245.27V252.42M418.28 269.63V270.76M432.02 260.53V268.95M432.02 270.15V273.53M445.77 258.26V269.14M445.77 274.5V279.7M459.51 274.01V273.82M459.51 275.02V287.49M473.25 262.16V275.15M473.25 277.75V278.88M486.99 268.33V270.44M486.99 277.58V284.57M500.73 262.16V271.09M500.73 279.7V279.7M514.47 276.45V279.21M514.47 280.51V286.52M528.21 267.19V270.44M528.21 280.51V290.58M541.95 262.16V265.41M541.95 270.76V273.2M555.69 261.35V265.41M555.69 270.76V276.45M569.43 265.08V268.95M569.43 270.15V273.53M583.18 266.38V269.14M583.18 283.76V286.52M596.92 278.56V282.94M596.92 294.63V297.56M610.66 291.06V294.28M610.66 295.48V301.62M624.4 282.13V283.43M624.4 295.45V297.56M638.14 274.01V283.27M638.14 285.7V287.81M651.88 276.12V277.26M651.88 285.38V285.38M665.62 267.19V272.39M665.62 277.58V278.88M679.36 271.25V272.06M679.36 276.45V280.51M693.1 265.41V265.41M693.1 276.45V278.07M706.85 262.16V265.41M706.85 268.82V275.15M720.59 262.97V266.38M720.59 268.65V270.76M734.33 264.27V266.38M734.33 282.62V282.62M748.07 280.02V282.13M748.07 285.7V300.81M761.81 274.5V274.5M761.81 285.38V285.38M775.55 271.25V274.5M775.55 277.75V280.83M789.29 269.95V274.5M789.29 277.26V277.26M803.03 273.2V274.34M803.03 287.81V287.81M816.77 284.89V287.33M816.77 289.44V292.69M830.51 285.38V285.38M830.51 288.14V291.87M844.25 283.43V285.38M844.25 295.45V302.43M858 286.19V288.63M858 295.45V297.88M871.74 283.43V287.95M871.74 289.15V294.63M885.48 280.99V282.46M885.48 288.14V288.14M899.22 281.64V282.46M899.22 286.52V286.52M912.96 278.88V285.51M912.96 286.71V289.44M926.7 271.25V287.33M926.7 288.63V289.44M940.44 273.2V289.57M940.44 290.77V315.42M954.18 283.27V289.93M954.18 292.69V294.31M967.92 288.14V289.44M967.92 292.2V296.26M981.66 281.32V288.76M981.66 289.96V295.45M995.41 288.63V289.11M995.41 297.56V303.24M1009.15 292.36V296.96M1009.15 298.16V299.18M1022.89 294.31V297.07M1022.89 299.51V304.38M1036.63 296.75V299.18M1036.63 302.43V304.38M1050.37 298.37V301.94M1050.37 303.24V307.63M1064.11 302.43V302.92M1064.11 308.44V308.44M1077.85 301.13V301.94M1077.85 308.44V309.74M1091.59 294.31V294.31M1091.59 302.1V302.1M1105.33 276.45V277.26M1105.33 294.31V294.31M1119.08 277.26V277.26M1119.08 283.76V289.11M1132.82 279.21V282.59M1132.82 283.79V286.52M1146.56 276.12V276.45M1146.56 282.13V282.13M1160.3 273.2V276.45M1160.3 281.64V283.76M1174.04 277.26V280.02M1174.04 281.32V284.57M1187.78 272.06V275.31M1187.78 280.51V283.76M1201.52 261.35V264.59M1201.52 275.31V276.45M1215.26 258.26V264.59M1215.26 267.84V269.95M1229 259.4V259.4M1229 267.52V269.95M1242.74 254.2V259.2M1242.74 260.4V265.89M1256.48 254.2V259.04M1256.48 260.24V262.65M1270.23 218.95V232.92M1270.23 260.36V260.36M1283.97 194.27V200.44M1283.97 234.05V234.05M1297.71 194.27V200.44M1297.71 205.64V213.76M1311.45 171.54V176.41M1311.45 205.64V205.64M1325.19 161.31V176.41M1325.19 186.64V188.59M1338.93 162.6V163.42M1338.93 186.64V197.52M1352.67 135.32V139.87M1352.67 163.74V163.74M1366.41 110.95V124.27M1366.41 140.18V144.57M1380.15 124.27V124.27M1380.15 167.5V168.8M1393.89 166.66V167.48M1393.89 195.57V196.71M1407.64 180.47V195.41M1407.64 199.47V210.51M1421.38 171.54V174.46M1421.38 199.47V206.45M1435.12 167.15V174.46M1435.12 188.26V200.76M1448.86 173.16V174.46M1448.86 187.29V196.71M1462.6 155.68V161.36M1462.6 174.68V184.91M1476.34 138.63V141.87M1476.34 161.68V164.12M1490.08 138.95V141.87M1490.08 149.67V169.8M1503.82 129.7V136.68M1503.82 149.67V152.1M1517.56 119.95V121.09M1517.56 137.33V140.58M1531.31 112.16V112.16M1531.31 121.25V128.88M1545.05 111.02V112.16M1545.05 126.12V131.32M1558.79 124.82V125.96M1558.79 154.86V158.11M1572.53 124.01V130.99M1572.53 155.68V155.68M1586.27 115.08V119.14M1586.27 131.32V135.38M1600.01 111.02V113.13M1600.01 119.47V132.62M1613.75 78.22V87.48M1613.75 113.46V114.59M1627.49 86.18V87.48M1627.49 89.42V110.7M1641.23 73.35V74.49M1641.23 89.42V99.65M1654.97 70.43V74.49M1654.97 119.47V119.47M1668.71 115.08V119.14M1668.71 134.08V151.94M1682.46 129.7V134.08M1682.46 144.8V159.74M1696.2 103.23V110.53M1696.2 145.12V146.42M1709.94 91.05V110.21M1709.94 120.44V120.44M1723.68 85.85V89.1M1723.68 120.44V123.53M1737.42 82.12V89.1M1737.42 98.52V103.71M1751.16 95.11V98.84M1751.16 116.38V124.5M1764.9 112.97V117.19M1764.9 119.14V132.62M1778.64 117.19V118.82M1778.64 147.07V158.92M1792.38 124.01V142.69M1792.38 147.07V149.99M1806.12 126.77V142.33M1806.12 143.53V149.18M1819.87 115.08V116.22M1819.87 143.17V148.37M1833.61 115.08V116.22M1833.61 129.37V132.62" stroke="#3434ff" stroke-width="1.3" fill="none"/><path d="M1.05 309.74H11.05V316.23H1.05ZM14.8 304.05H24.8V310.22H14.8ZM28.54 282.46H38.54V304.38H28.54ZM42.28 271.25H52.28V282.29H42.28ZM56.02 245.43H66.02V270.44H56.02ZM69.76 242.02H79.76V245.92H69.76ZM97.24 241.86H107.24V250.95H97.24ZM110.98 239.59H120.98V242.35H110.98ZM138.46 222.86H148.46V243.16H138.46ZM165.95 224H175.95V230.17H165.95ZM207.17 237.48H217.17V241.05H207.17ZM220.91 228.06H230.91V238.29H220.91ZM248.39 235.85H258.39V239.1H248.39ZM303.36 277.26H313.36V295.28H303.36ZM344.58 307.3H354.58V313.47H344.58ZM372.06 301.29H382.06V315.42H372.06ZM385.8 262.32H395.8V301.62H385.8ZM399.54 252.42H409.54V262.65H399.54ZM427.02 268.95H437.02V270.15H427.02ZM481.99 270.44H491.99V277.58H481.99ZM523.21 270.44H533.21V280.51H523.21ZM536.95 265.41H546.95V270.76H536.95ZM564.43 268.95H574.43V270.15H564.43ZM619.4 283.43H629.4V295.45H619.4ZM646.88 277.26H656.88V285.38H646.88ZM660.62 272.39H670.62V277.58H660.62ZM688.1 265.41H698.1V276.45H688.1ZM715.59 266.38H725.59V268.65H715.59ZM756.81 274.5H766.81V285.38H756.81ZM784.29 274.5H794.29V277.26H784.29ZM825.51 285.38H835.51V288.14H825.51ZM853 288.63H863V295.45H853ZM866.74 287.95H876.74V289.15H866.74ZM880.48 282.46H890.48V288.14H880.48ZM935.44 289.57H945.44V290.77H935.44ZM962.92 289.44H972.92V292.2H962.92ZM1004.15 296.96H1014.15V298.16H1004.15ZM1072.85 301.94H1082.85V308.44H1072.85ZM1086.59 294.31H1096.59V302.1H1086.59ZM1100.33 277.26H1110.33V294.31H1100.33ZM1127.82 282.59H1137.82V283.79H1127.82ZM1141.56 276.45H1151.56V282.13H1141.56ZM1182.78 275.31H1192.78V280.51H1182.78ZM1196.52 264.59H1206.52V275.31H1196.52ZM1224 259.4H1234V267.52H1224ZM1265.23 232.92H1275.23V260.36H1265.23ZM1278.97 200.44H1288.97V234.05H1278.97ZM1306.45 176.41H1316.45V205.64H1306.45ZM1333.93 163.42H1343.93V186.64H1333.93ZM1347.67 139.87H1357.67V163.74H1347.67ZM1361.41 124.27H1371.41V140.18H1361.41ZM1416.38 174.46H1426.38V199.47H1416.38ZM1443.86 174.46H1453.86V187.29H1443.86ZM1457.6 161.36H1467.6V174.68H1457.6ZM1471.34 141.87H1481.34V161.68H1471.34ZM1498.82 136.68H1508.82V149.67H1498.82ZM1512.56 121.09H1522.56V137.33H1512.56ZM1526.31 112.16H1536.31V121.25H1526.31ZM1567.53 130.99H1577.53V155.68H1567.53ZM1581.27 119.14H1591.27V131.32H1581.27ZM1595.01 113.13H1605.01V119.47H1595.01ZM1608.75 87.48H1618.75V113.46H1608.75ZM1636.23 74.49H1646.23V89.42H1636.23ZM1691.2 110.53H1701.2V145.12H1691.2ZM1718.68 89.1H1728.68V120.44H1718.68ZM1787.38 142.69H1797.38V147.07H1787.38ZM1801.12 142.33H1811.12V143.53H1801.12ZM1814.87 116.22H1824.87V143.17H1814.87Z" stroke="#3434ff" stroke-width="1.15" fill="none"/><path d="M83 242.02H94V250.79H83ZM124.22 239.59H135.22V242.83H124.22ZM151.7 224H162.7V230.17H151.7ZM179.19 224H190.19V235.04H179.19ZM192.93 235.04H203.93V241.05H192.93ZM234.15 227.73H245.15V239.1H234.15ZM261.63 235.53H272.63V269.63H261.63ZM275.37 268.95H286.37V270.15H275.37ZM289.12 270.28H300.12V295.61H289.12ZM316.6 277.26H327.6V308.44H316.6ZM330.34 308.11H341.34V313.47H330.34ZM357.82 307.3H368.82V315.42H357.82ZM412.78 252.42H423.78V269.63H412.78ZM440.27 269.14H451.27V274.5H440.27ZM454.01 273.82H465.01V275.02H454.01ZM467.75 275.15H478.75V277.75H467.75ZM495.23 271.09H506.23V279.7H495.23ZM508.97 279.21H519.97V280.51H508.97ZM550.19 265.41H561.19V270.76H550.19ZM577.68 269.14H588.68V283.76H577.68ZM591.42 282.94H602.42V294.63H591.42ZM605.16 294.28H616.16V295.48H605.16ZM632.64 283.27H643.64V285.7H632.64ZM673.86 272.06H684.86V276.45H673.86ZM701.35 265.41H712.35V268.82H701.35ZM728.83 266.38H739.83V282.62H728.83ZM742.57 282.13H753.57V285.7H742.57ZM770.05 274.5H781.05V277.75H770.05ZM797.53 274.34H808.53V287.81H797.53ZM811.27 287.33H822.27V289.44H811.27ZM838.75 285.38H849.75V295.45H838.75ZM893.72 282.46H904.72V286.52H893.72ZM907.46 285.51H918.46V286.71H907.46ZM921.2 287.33H932.2V288.63H921.2ZM948.68 289.93H959.68V292.69H948.68ZM976.16 288.76H987.16V289.96H976.16ZM989.91 289.11H1000.91V297.56H989.91ZM1017.39 297.07H1028.39V299.51H1017.39ZM1031.13 299.18H1042.13V302.43H1031.13ZM1044.87 301.94H1055.87V303.24H1044.87ZM1058.61 302.92H1069.61V308.44H1058.61ZM1113.58 277.26H1124.58V283.76H1113.58ZM1154.8 276.45H1165.8V281.64H1154.8ZM1168.54 280.02H1179.54V281.32H1168.54ZM1209.76 264.59H1220.76V267.84H1209.76ZM1237.24 259.2H1248.24V260.4H1237.24ZM1250.98 259.04H1261.98V260.24H1250.98ZM1292.21 200.44H1303.21V205.64H1292.21ZM1319.69 176.41H1330.69V186.64H1319.69ZM1374.65 124.27H1385.65V167.5H1374.65ZM1388.39 167.48H1399.39V195.57H1388.39ZM1402.14 195.41H1413.14V199.47H1402.14ZM1429.62 174.46H1440.62V188.26H1429.62ZM1484.58 141.87H1495.58V149.67H1484.58ZM1539.55 112.16H1550.55V126.12H1539.55ZM1553.29 125.96H1564.29V154.86H1553.29ZM1621.99 87.48H1632.99V89.42H1621.99ZM1649.47 74.49H1660.47V119.47H1649.47ZM1663.21 119.14H1674.21V134.08H1663.21ZM1676.96 134.08H1687.96V144.8H1676.96ZM1704.44 110.21H1715.44V120.44H1704.44ZM1731.92 89.1H1742.92V98.52H1731.92ZM1745.66 98.84H1756.66V116.38H1745.66ZM1759.4 117.19H1770.4V119.14H1759.4ZM1773.14 118.82H1784.14V147.07H1773.14ZM1828.11 116.22H1839.11V129.37H1828.11Z" fill="#3434ff"/></g><g clip-path="url(#cr)"><path d="M-7.69 485.53 L6.05 484.47 L19.8 482.58 L33.54 480.03 L47.28 477.09 L61.02 474.54 L74.76 472.72 L88.5 472.42 L102.24 472.44 L115.98 472.49 L129.72 472.99 L143.46 473.25 L157.2 474.28 L170.95 474.65 L184.69 475.46 L198.43 476.72 L212.17 477.82 L225.91 478.52 L239.65 480.53 L253.39 482.58 L267.13 484.97 L280.87 487.3 L294.62 490.56 L308.36 492.42 L322.1 494.86 L335.84 497.18 L349.58 499.59 L363.32 502.52 L377.06 505.46 L390.8 507.26 L404.54 509.15 L418.28 511.74 L432.02 513.53 L445.77 515.72 L459.51 517.97 L473.25 520.04 L486.99 522.17 L500.73 524.17 L514.47 526.38 L528.21 527.1 L541.95 527.14 L555.69 527.72 L569.43 528.62 L583.18 529.65 L596.92 531.36 L610.66 531.47 L624.4 530.63 L638.14 529.23 L651.88 528.24 L665.62 526.19 L679.36 524.38 L693.1 522.23 L706.85 520.17 L720.59 518.71 L734.33 519.85 L748.07 521.43 L761.81 521.51 L775.55 521.83 L789.29 521.7 L803.03 522.45 L816.77 523.14 L830.51 523.84 L844.25 524.65 L858 524.81 L871.74 525.52 L885.48 526 L899.22 526.44 L912.96 526.99 L926.7 526.79 L940.44 526.21 L954.18 525.89 L967.92 526.02 L981.66 526.05 L995.41 527.5 L1009.15 529.22 L1022.89 530.8 L1036.63 533.33 L1050.37 535.62 L1064.11 538.45 L1077.85 538.73 L1091.59 537.78 L1105.33 536.42 L1119.08 535.56 L1132.82 534.87 L1146.56 532.88 L1160.3 531.42 L1174.04 530.3 L1187.78 528.11 L1201.52 525.93 L1215.26 524.23 L1229 522.6 L1242.74 520.73 L1256.48 518.86 L1270.23 515.87 L1283.97 512.39 L1297.71 509.05 L1311.45 505.89 L1325.19 503.39 L1338.93 499.76 L1352.67 495.93 L1366.41 491.78 L1380.15 489.28 L1393.89 487.53 L1407.64 485.5 L1421.38 484.17 L1435.12 484.29 L1448.86 485.3 L1462.6 485.28 L1476.34 484.94 L1490.08 485.29 L1503.82 484.75 L1517.56 483.93 L1531.31 483.41 L1545.05 484.14 L1558.79 485.49 L1572.53 486.63 L1586.27 487.38 L1600.01 488 L1613.75 489.01 L1627.49 490.51 L1641.23 491.28 L1654.97 494.03 L1668.71 496.47 L1682.46 499.48 L1696.2 501.76 L1709.94 504.44 L1723.68 504.49 L1737.42 504.02 L1751.16 503.96 L1764.9 504.61 L1778.64 505.56 L1792.38 506.71 L1806.12 508.17 L1819.87 509.09 L1833.61 510.14" stroke="#8a8a8a" stroke-width="2.0" fill="none" stroke-linejoin="round" opacity="1.0"/><path d="M-7.69 481.11 L6.05 485.05 L19.8 486.64 L33.54 485.19 L47.28 483.41 L61.02 481.13 L74.76 478.86 L88.5 480.01 L102.24 481.15 L115.98 478.76 L129.72 477.11 L143.46 475 L157.2 473.46 L170.95 470.99 L184.69 470.21 L198.43 471.95 L212.17 474.1 L225.91 476.7 L239.65 481.85 L253.39 486.99 L267.13 495.69 L280.87 502.39 L294.62 510.76 L308.36 516.54 L322.1 523.04 L335.84 530.96 L349.58 536.31 L363.32 542.64 L377.06 544.6 L390.8 542.4 L404.54 540.3 L418.28 541.41 L432.02 540.37 L445.77 540.55 L459.51 537.25 L473.25 534.39 L486.99 529.14 L500.73 528.22 L514.47 525.8 L528.21 521.24 L541.95 516.84 L555.69 513.26 L569.43 511.42 L583.18 515.54 L596.92 521.31 L610.66 525.3 L624.4 526.39 L638.14 527.24 L651.88 526.37 L665.62 524.27 L679.36 524.44 L693.1 521.28 L706.85 518.91 L720.59 518.07 L734.33 521.44 L748.07 523.92 L761.81 524.33 L775.55 522.58 L789.29 518.98 L803.03 517.69 L816.77 519.58 L830.51 519.88 L844.25 523.45 L858 526.02 L871.74 527.38 L885.48 529.05 L899.22 530.88 L912.96 533.12 L926.7 532.57 L940.44 531.96 L954.18 534.66 L967.92 534.99 L981.66 536.15 L995.41 537.3 L1009.15 538.13 L1022.89 540.61 L1036.63 542.1 L1050.37 545.52 L1064.11 549.79 L1077.85 551.53 L1091.59 549.7 L1105.33 545.56 L1119.08 542.65 L1132.82 539.2 L1146.56 533.96 L1160.3 532.14 L1174.04 530.11 L1187.78 524.49 L1201.52 517.66 L1215.26 511.53 L1229 503.82 L1242.74 496.27 L1256.48 488.01 L1270.23 481.86 L1283.97 477.66 L1297.71 476.83 L1311.45 473.49 L1325.19 471.97 L1338.93 470.57 L1352.67 466.98 L1366.41 463.2 L1380.15 465.04 L1393.89 469.85 L1407.64 473.68 L1421.38 476.71 L1435.12 480.41 L1448.86 483.1 L1462.6 486.78 L1476.34 489.92 L1490.08 492.89 L1503.82 495.69 L1517.56 496.06 L1531.31 496.8 L1545.05 500.04 L1558.79 506.21 L1572.53 506.08 L1586.27 503.52 L1600.01 500.37 L1613.75 497.73 L1627.49 494.36 L1641.23 491.31 L1654.97 493.54 L1668.71 497.65 L1682.46 501.47 L1696.2 503.31 L1709.94 506.67 L1723.68 508.52 L1737.42 509.2 L1751.16 508.57 L1764.9 510.06 L1778.64 514.06 L1792.38 517.94 L1806.12 523.1 L1819.87 525.14 L1833.61 529.16" stroke="#48977a" stroke-width="2.0" fill="none" stroke-linejoin="round" opacity="1.0"/><path d="M-7.69 503.66 L6.05 493.22 L19.8 485.23 L33.54 466.16 L47.28 460.28 L61.02 451.65 L74.76 450.81 L88.5 470.31 L102.24 465.7 L115.98 464.56 L129.72 472.62 L143.46 461.62 L157.2 477.4 L170.95 473.29 L184.69 495.44 L198.43 506.01 L212.17 501.69 L225.91 491.23 L239.65 511.59 L253.39 507.29 L267.13 547.97 L280.87 548.24 L294.62 565.74 L308.36 540.51 L322.1 559.26 L335.84 561.68 L349.58 553.5 L363.32 558.44 L377.06 539.63 L390.8 505.28 L404.54 499.07 L418.28 515.43 L432.02 515.03 L445.77 520.47 L459.51 520.83 L473.25 524.37 L486.99 514.99 L500.73 527.39 L514.47 528.46 L528.21 513.49 L541.95 506.83 L555.69 516.37 L569.43 513.77 L583.18 537.34 L596.92 549.92 L610.66 550.8 L624.4 527.15 L638.14 530.62 L651.88 515.78 L665.62 508.19 L679.36 516.45 L693.1 499.57 L706.85 507.02 L720.59 503.14 L734.33 533.87 L748.07 538.37 L761.81 517.45 L775.55 523.21 L789.29 517.18 L803.03 539.47 L816.77 541.77 L830.51 532.4 L844.25 547.69 L858 532.37 L871.74 531.29 L885.48 518.75 L899.22 527.43 L912.96 527.43 L926.7 532.52 L940.44 535.38 L954.18 542.73 L967.92 530.41 L981.66 531.43 L995.41 551.9 L1009.15 551.16 L1022.89 556.17 L1036.63 562.59 L1050.37 564.33 L1064.11 574.05 L1077.85 540.73 L1091.59 514.68 L1105.33 483.49 L1119.08 501.72 L1132.82 499.79 L1146.56 489.81 L1160.3 505.12 L1174.04 504.47 L1187.78 492.92 L1201.52 478.04 L1215.26 488.65 L1229 477.94 L1242.74 480.73 L1256.48 480.73 L1270.23 457.88 L1283.97 448.23 L1297.71 459.32 L1311.45 451.44 L1325.19 468.95 L1338.93 461.04 L1352.67 455.36 L1366.41 452.39 L1380.15 500.3 L1393.89 520.59 L1407.64 523.16 L1421.38 507.39 L1435.12 517.69 L1448.86 508.92 L1462.6 501.21 L1476.34 491.12 L1490.08 498.76 L1503.82 491.57 L1517.56 483.9 L1531.31 479.86 L1545.05 496.31 L1558.79 522.51 L1572.53 506.38 L1586.27 499.53 L1600.01 496.1 L1613.75 483.34 L1627.49 485.56 L1641.23 478.57 L1654.97 520.3 L1668.71 529.81 L1682.46 536.4 L1696.2 512.37 L1709.94 519.39 L1723.68 501.48 L1737.42 508.78 L1751.16 521.74 L1764.9 523.71 L1778.64 541.5 L1792.38 537.59 L1806.12 537.59 L1819.87 514.16 L1833.61 525.06" stroke="#ff66ff" stroke-width="1.2" fill="none" stroke-linejoin="round" opacity="1.0"/><path d="M-7.69 518.73 L6.05 497.62 L19.8 483.65 L33.54 458.24 L47.28 452.17 L61.02 444.51 L74.76 443.82 L88.5 472.21 L102.24 465.32 L115.98 463.62 L129.72 476.42 L143.46 459.24 L157.2 482.6 L170.95 475.71 L184.69 507.77 L198.43 522.01 L212.17 513.68 L225.91 494.72 L239.65 524.29 L253.39 516.45 L267.13 565.64 L280.87 565.91 L294.62 582.6 L308.36 544.53 L322.1 567.33 L335.84 570.12 L349.58 557.54 L363.32 564.36 L377.06 535.28 L390.8 491.19 L404.54 484.23 L418.28 510.31 L432.02 509.75 L445.77 518.86 L459.51 519.48 L473.25 525.93 L486.99 509.04 L500.73 531.6 L514.47 533.47 L528.21 506.38 L541.95 495.84 L555.69 514.21 L569.43 509.57 L583.18 548.86 L596.92 565.08 L610.66 566.15 L624.4 524.97 L638.14 530.75 L651.88 507.35 L665.62 496.44 L679.36 511.54 L693.1 487.24 L706.85 500.38 L720.59 494.54 L734.33 543 L748.07 549.05 L761.81 515.32 L775.55 524.33 L789.29 514.64 L803.03 548.17 L816.77 551.3 L830.51 535.09 L844.25 557.32 L858 532.32 L871.74 530.58 L885.48 510.68 L899.22 525.97 L912.96 525.97 L926.7 535.3 L940.44 540.48 L954.18 553.13 L967.92 528.87 L981.66 530.86 L995.41 564.31 L1009.15 562.88 L1022.89 569.91 L1036.63 578.09 L1050.37 580.19 L1064.11 590.38 L1077.85 535.03 L1091.59 500.44 L1105.33 467.9 L1119.08 494.58 L1132.82 492.17 L1146.56 479.8 L1160.3 503.42 L1174.04 502.44 L1187.78 485.61 L1201.52 467.29 L1215.26 484.06 L1229 470.12 L1242.74 474.61 L1256.48 474.61 L1270.23 448.95 L1283.97 441.63 L1297.71 456.41 L1311.45 447.76 L1325.19 470.92 L1338.93 460.19 L1352.67 453.11 L1366.41 449.6 L1380.15 511.3 L1393.89 534.69 L1407.64 537.66 L1421.38 512.54 L1435.12 526.38 L1448.86 512.34 L1462.6 500.36 L1476.34 485.66 L1490.08 497.96 L1503.82 486.94 L1517.56 476.06 L1531.31 470.66 L1545.05 498.38 L1558.79 536.06 L1572.53 509.4 L1586.27 498.87 L1600.01 493.59 L1613.75 475.53 L1627.49 479.26 L1641.23 469.67 L1654.97 531.45 L1668.71 543.31 L1682.46 551.39 L1696.2 512.74 L1709.94 522.99 L1723.68 496.62 L1737.42 507.88 L1751.16 527.32 L1764.9 530.24 L1778.64 554.83 L1792.38 547.87 L1806.12 547.87 L1819.87 507.75 L1833.61 525.96" stroke="#8c8cff" stroke-width="1.1" fill="none" stroke-linejoin="round" opacity="1.0"/></g><g clip-path="url(#cs)"><path d="M-7.69 745.97 L6.05 751.69 L19.8 737.79 L33.54 703.54 L47.28 670.66 L61.02 650.72 L74.76 645.37 L88.5 650.32 L102.24 658.2 L115.98 666.37 L129.72 673.83 L143.46 677.35 L157.2 682.28 L170.95 680.37 L184.69 688.91 L198.43 699.33 L212.17 718.45 L225.91 724.58 L239.65 724.11 L253.39 714.37 L267.13 720.38 L280.87 733.38 L294.62 761.97 L308.36 775.62 L322.1 782.88 L335.84 775.16 L349.58 771.01 L363.32 767.72 L377.06 761.87 L390.8 743.49 L404.54 711.82 L418.28 682.49 L432.02 671.95 L445.77 680.7 L459.51 699.78 L473.25 720.49 L486.99 735.26 L500.73 743.74 L514.47 743.52 L528.21 741.02 L541.95 726.55 L555.69 705.53 L569.43 686.36 L583.18 690.49 L596.92 712.94 L610.66 746.48 L624.4 763.22 L638.14 762.2 L651.88 737.19 L665.62 710.58 L679.36 686.31 L693.1 673.25 L706.85 669.11 L720.59 668.07 L734.33 687.53 L748.07 710.4 L761.81 736.29 L775.55 732.66 L789.29 717.09 L803.03 704.64 L816.77 711.92 L830.51 732.54 L844.25 752.18 L858 757.22 L871.74 747.07 L885.48 719.99 L899.22 694 L912.96 678.72 L926.7 688.96 L940.44 707.12 L954.18 723.98 L967.92 722.4 L981.66 717.86 L995.41 713.47 L1009.15 721.04 L1022.89 735.4 L1036.63 754.28 L1050.37 767.92 L1064.11 778.66 L1077.85 775.47 L1091.59 757.53 L1105.33 717.83 L1119.08 680.79 L1132.82 661.26 L1146.56 659.39 L1160.3 665.88 L1174.04 674.93 L1187.78 688.08 L1201.52 693.16 L1215.26 689.61 L1229 678.83 L1242.74 673.99 L1256.48 670.1 L1270.23 673.77 L1283.97 674.03 L1297.71 673.99 L1311.45 665.67 L1325.19 662.79 L1338.93 659.56 L1352.67 660.46 L1366.41 656.06 L1380.15 665.47 L1393.89 691.66 L1407.64 733.69 L1421.38 763.99 L1435.12 773.11 L1448.86 755.47 L1462.6 728.32 L1476.34 692.76 L1490.08 670.24 L1503.82 657.52 L1517.56 656.97 L1531.31 653.17 L1545.05 652.15 L1558.79 668.44 L1572.53 695.76 L1586.27 718.74 L1600.01 708.72 L1613.75 685.27 L1627.49 662.86 L1641.23 656.22 L1654.97 667.55 L1668.71 691.06 L1682.46 729.99 L1696.2 750.36 L1709.94 755.02 L1723.68 730.29 L1737.42 707.42 L1751.16 688.1 L1764.9 695.88 L1778.64 719.64 L1792.38 748.6 L1806.12 765.14 L1819.87 755.85 L1833.61 733.39" stroke="#ff55ff" stroke-width="1.2" fill="none" stroke-linejoin="round" opacity="1.0"/><path d="M-7.69 766.3 L6.05 744.21 L19.8 702.85 L33.54 663.57 L47.28 645.55 L61.02 643.02 L74.76 647.54 L88.5 660.39 L102.24 666.69 L115.98 672.02 L129.72 682.79 L143.46 677.22 L157.2 686.81 L170.95 677.07 L184.69 702.85 L198.43 718.08 L212.17 734.42 L225.91 721.25 L239.65 716.66 L253.39 705.21 L267.13 739.26 L280.87 755.66 L294.62 790.98 L308.36 780.21 L322.1 777.45 L335.84 767.83 L349.58 767.76 L363.32 767.58 L377.06 750.27 L390.8 712.62 L404.54 672.57 L418.28 662.29 L432.02 681 L445.77 698.81 L459.51 719.53 L473.25 743.12 L486.99 743.12 L500.73 744.96 L514.47 742.49 L528.21 735.6 L541.95 701.55 L555.69 679.44 L569.43 678.07 L583.18 713.96 L596.92 746.79 L610.66 778.7 L624.4 764.16 L638.14 743.76 L651.88 703.65 L665.62 684.33 L679.36 670.94 L693.1 664.47 L706.85 671.93 L720.59 667.82 L734.33 722.82 L748.07 740.56 L761.81 745.47 L775.55 711.95 L789.29 693.84 L803.03 708.12 L816.77 733.78 L830.51 755.71 L844.25 767.04 L858 748.92 L871.74 725.24 L885.48 685.81 L899.22 670.95 L912.96 679.41 L926.7 716.53 L940.44 725.41 L954.18 730.01 L967.92 711.79 L981.66 711.79 L995.41 716.83 L1009.15 734.52 L1022.89 754.84 L1036.63 773.47 L1050.37 775.44 L1064.11 787.06 L1077.85 763.92 L1091.59 721.61 L1105.33 667.95 L1119.08 652.81 L1132.82 663.01 L1146.56 662.36 L1160.3 672.28 L1174.04 690.15 L1187.78 701.82 L1201.52 687.51 L1215.26 679.48 L1229 669.5 L1242.74 672.99 L1256.48 667.81 L1270.23 680.5 L1283.97 673.8 L1297.71 667.67 L1311.45 655.55 L1325.19 665.13 L1338.93 658 L1352.67 658.25 L1366.41 651.92 L1380.15 686.25 L1393.89 736.82 L1407.64 777.99 L1421.38 777.15 L1435.12 764.2 L1448.86 725.07 L1462.6 695.69 L1476.34 657.51 L1490.08 657.51 L1503.82 657.54 L1517.56 655.87 L1531.31 646.09 L1545.05 654.49 L1558.79 704.74 L1572.53 728.06 L1586.27 723.42 L1600.01 674.68 L1613.75 657.72 L1627.49 656.19 L1641.23 654.74 L1654.97 691.73 L1668.71 726.72 L1682.46 771.52 L1696.2 752.85 L1709.94 740.7 L1723.68 697.32 L1737.42 684.24 L1751.16 682.74 L1764.9 720.65 L1778.64 755.54 L1792.38 769.61 L1806.12 770.29 L1819.87 727.66 L1833.61 702.22" stroke="#8c8cff" stroke-width="1.1" fill="none" stroke-linejoin="round" opacity="1.0"/></g><path d="M10 411.5H1855M10 612.5H1855" stroke="#444" stroke-width="1.3"/><path d="M10 810.5H1906" stroke="#666" stroke-width="2"/><path d="M1855.2 10V831" stroke="#555" stroke-width="1.5"/><g font-family='"Liberation Sans", sans-serif'><text x="1860" y="404.08" fill="#666" font-size="8.6" font-weight="normal" text-anchor="start" textLength="23" lengthAdjust="spacingAndGlyphs">80.00</text><text x="1860" y="383.87" fill="#666" font-size="8.6" font-weight="normal" text-anchor="start" textLength="23" lengthAdjust="spacingAndGlyphs">85.00</text><text x="1860" y="363.67" fill="#666" font-size="8.6" font-weight="normal" text-anchor="start" textLength="23" lengthAdjust="spacingAndGlyphs">90.00</text><text x="1860" y="343.47" fill="#666" font-size="8.6" font-weight="normal" text-anchor="start" textLength="23" lengthAdjust="spacingAndGlyphs">95.00</text><text x="1860" y="323.27" fill="#666" font-size="8.6" font-weight="normal" text-anchor="start" textLength="23" lengthAdjust="spacingAndGlyphs">100.00</text><text x="1860" y="303.07" fill="#666" font-size="8.6" font-weight="normal" text-anchor="start" textLength="23" lengthAdjust="spacingAndGlyphs">105.00</text><text x="1860" y="282.87" fill="#666" font-size="8.6" font-weight="normal" text-anchor="start" textLength="23" lengthAdjust="spacingAndGlyphs">110.00</text><text x="1860" y="262.67" fill="#666" font-size="8.6" font-weight="normal" text-anchor="start" textLength="23" lengthAdjust="spacingAndGlyphs">115.00</text><text x="1860" y="242.46" fill="#666" font-size="8.6" font-weight="normal" text-anchor="start" textLength="23" lengthAdjust="spacingAndGlyphs">120.00</text><text x="1860" y="222.26" fill="#666" font-size="8.6" font-weight="normal" text-anchor="start" textLength="23" lengthAdjust="spacingAndGlyphs">125.00</text><text x="1860" y="202.06" fill="#666" font-size="8.6" font-weight="normal" text-anchor="start" textLength="23" lengthAdjust="spacingAndGlyphs">130.00</text><text x="1860" y="181.86" fill="#666" font-size="8.6" font-weight="normal" text-anchor="start" textLength="23" lengthAdjust="spacingAndGlyphs">135.00</text><text x="1860" y="161.66" fill="#666" font-size="8.6" font-weight="normal" text-anchor="start" textLength="23" lengthAdjust="spacingAndGlyphs">140.00</text><text x="1860" y="101.05" fill="#666" font-size="8.6" font-weight="normal" text-anchor="start" textLength="23" lengthAdjust="spacingAndGlyphs">155.00</text><text x="1860" y="80.85" fill="#666" font-size="8.6" font-weight="normal" text-anchor="start" textLength="23" lengthAdjust="spacingAndGlyphs">160.00</text><text x="1860" y="60.65" fill="#666" font-size="8.6" font-weight="normal" text-anchor="start" textLength="23" lengthAdjust="spacingAndGlyphs">165.00</text><text x="1860" y="437" fill="#666" font-size="8.6" font-weight="normal" text-anchor="start" textLength="30" lengthAdjust="spacingAndGlyphs">100.0000</text><text x="1860" y="472.1" fill="#666" font-size="8.6" font-weight="normal" text-anchor="start" textLength="30" lengthAdjust="spacingAndGlyphs">80.0000</text><text x="1860" y="507.2" fill="#666" font-size="8.6" font-weight="normal" text-anchor="start" textLength="30" lengthAdjust="spacingAndGlyphs">60.0000</text><text x="1860" y="542.3" fill="#666" font-size="8.6" font-weight="normal" text-anchor="start" textLength="30" lengthAdjust="spacingAndGlyphs">40.0000</text><text x="1860" y="577.4" fill="#666" font-size="8.6" font-weight="normal" text-anchor="start" textLength="30" lengthAdjust="spacingAndGlyphs">20.0000</text><text x="1860" y="642.6" fill="#666" font-size="8.6" font-weight="normal" text-anchor="start" textLength="27" lengthAdjust="spacingAndGlyphs">100.000</text><text x="1860" y="675.6" fill="#666" font-size="8.6" font-weight="normal" text-anchor="start" textLength="23" lengthAdjust="spacingAndGlyphs">80.000</text><text x="1860" y="708.6" fill="#666" font-size="8.6" font-weight="normal" text-anchor="start" textLength="23" lengthAdjust="spacingAndGlyphs">60.000</text><text x="1860" y="741.6" fill="#666" font-size="8.6" font-weight="normal" text-anchor="start" textLength="23" lengthAdjust="spacingAndGlyphs">40.000</text><text x="1860" y="774.6" fill="#666" font-size="8.6" font-weight="normal" text-anchor="start" textLength="23" lengthAdjust="spacingAndGlyphs">20.000</text><text x="1860" y="807.6" fill="#666" font-size="8.6" font-weight="normal" text-anchor="start" textLength="19" lengthAdjust="spacingAndGlyphs">0.000</text><path d="M1855.5 102.05H1885.5Q1887.5 102.05 1887.5 104.05V110.45Q1887.5 112.45 1885.5 112.45H1855.5Z" fill="#8c0a32"/><text x="1860.6" y="110.45" fill="#fff" font-size="8.9" font-weight="bold" text-anchor="start" textLength="23.5" lengthAdjust="spacingAndGlyphs" stroke-width="0">149.74</text><path d="M1855.5 112.85H1885.5Q1887.5 112.85 1887.5 114.85V121.25Q1887.5 123.25 1885.5 123.25H1855.5Z" fill="#00c800"/><text x="1860.6" y="121.25" fill="#fff" font-size="8.9" font-weight="bold" text-anchor="start" textLength="23.5" lengthAdjust="spacingAndGlyphs" stroke-width="0">149.13</text><path d="M1855.5 123.9H1885.5Q1887.5 123.9 1887.5 125.9V132.3Q1887.5 134.3 1885.5 134.3H1855.5Z" fill="#3434ff"/><text x="1860.6" y="132.3" fill="#fff" font-size="8.9" font-weight="bold" text-anchor="start" textLength="23.5" lengthAdjust="spacingAndGlyphs" stroke-width="0">147.39</text><path d="M1855.5 135.9H1885.5Q1887.5 135.9 1887.5 137.9V144.3Q1887.5 146.3 1885.5 146.3H1855.5Z" fill="#ff00ff"/><text x="1860.6" y="144.3" fill="#fff" font-size="8.9" font-weight="bold" text-anchor="start" textLength="23.5" lengthAdjust="spacingAndGlyphs" stroke-width="0">146.54</text><path d="M1855.5 157.2H1885.5Q1887.5 157.2 1887.5 159.2V165.6Q1887.5 167.6 1885.5 167.6H1855.5Z" fill="#00c8c8"/><text x="1860.6" y="165.6" fill="#1a3a3a" font-size="8.9" font-weight="bold" text-anchor="start" textLength="23.5" lengthAdjust="spacingAndGlyphs" stroke-width="0">139.18</text><path d="M1855.5 218.3H1885.5Q1887.5 218.3 1887.5 220.3V226.7Q1887.5 228.7 1885.5 228.7H1855.5Z" fill="#007a00"/><text x="1860.6" y="226.7" fill="#fff" font-size="8.9" font-weight="bold" text-anchor="start" textLength="23.5" lengthAdjust="spacingAndGlyphs" stroke-width="0">124.13</text><path d="M1855.5 271.1H1885.5Q1887.5 271.1 1887.5 273.1V279.5Q1887.5 281.5 1885.5 281.5H1855.5Z" fill="#ff3030"/><text x="1860.6" y="279.5" fill="#fff" font-size="8.9" font-weight="bold" text-anchor="start" textLength="23.5" lengthAdjust="spacingAndGlyphs" stroke-width="0">110.92</text><path d="M1855.5 499.4H1889.5Q1891.5 499.4 1891.5 501.4V507.8Q1891.5 509.8 1889.5 509.8H1855.5Z" fill="#666666"/><text x="1860.6" y="507.8" fill="#fff" font-size="8.9" font-weight="bold" text-anchor="start" textLength="31" lengthAdjust="spacingAndGlyphs" stroke-width="0">56.4743</text><path d="M1855.5 509.8H1889.5Q1891.5 509.8 1891.5 511.8V518.2Q1891.5 520.2 1889.5 520.2H1855.5Z" fill="#ff00ff"/><text x="1860.6" y="518.2" fill="#fff" font-size="8.9" font-weight="bold" text-anchor="start" textLength="31" lengthAdjust="spacingAndGlyphs" stroke-width="0">47.9769</text><path d="M1855.5 521.8H1889.5Q1891.5 521.8 1891.5 523.8V530.2Q1891.5 532.2 1889.5 532.2H1855.5Z" fill="#3434ff"/><text x="1860.6" y="530.2" fill="#fff" font-size="8.9" font-weight="bold" text-anchor="start" textLength="31" lengthAdjust="spacingAndGlyphs" stroke-width="0">47.4637</text><path d="M1855.5 532.8H1889.5Q1891.5 532.8 1891.5 534.8V541.2Q1891.5 543.2 1889.5 543.2H1855.5Z" fill="#0a7a50"/><text x="1860.6" y="541.2" fill="#fff" font-size="8.9" font-weight="bold" text-anchor="start" textLength="31" lengthAdjust="spacingAndGlyphs" stroke-width="0">45.6439</text><path d="M1855.5 696.5H1885Q1887 696.5 1887 698.5V704.9Q1887 706.9 1885 706.9H1855.5Z" fill="#3434ff"/><text x="1860.6" y="704.9" fill="#fff" font-size="8.9" font-weight="bold" text-anchor="start" textLength="23.5" lengthAdjust="spacingAndGlyphs" stroke-width="0">63.024</text><path d="M1855.5 726.3H1885Q1887 726.3 1887 728.3V734.7Q1887 736.7 1885 736.7H1855.5Z" fill="#ff00ff"/><text x="1860.6" y="734.7" fill="#fff" font-size="8.9" font-weight="bold" text-anchor="start" textLength="23.5" lengthAdjust="spacingAndGlyphs" stroke-width="0">44.085</text><rect x="1858.5" y="13.8" width="43.2" height="26" rx="4.5" fill="#fff" stroke="#ededed" stroke-width="1"/><text x="1867.7" y="31.6" fill="#444" font-size="12" font-weight="normal" text-anchor="start" textLength="18.8" lengthAdjust="spacingAndGlyphs">JPY</text><text x="88.5" y="824" fill="#333" font-size="9.4" font-weight="normal" text-anchor="middle" textLength="18" lengthAdjust="spacingAndGlyphs" stroke="#333" stroke-width="0.35">2015</text><text x="157.2" y="824" fill="#666" font-size="9.0" font-weight="normal" text-anchor="middle" textLength="12" lengthAdjust="spacingAndGlyphs">Jun</text><text x="253.39" y="824" fill="#333" font-size="9.4" font-weight="normal" text-anchor="middle" textLength="18" lengthAdjust="spacingAndGlyphs" stroke="#333" stroke-width="0.35">2016</text><text x="322.1" y="824" fill="#666" font-size="9.0" font-weight="normal" text-anchor="middle" textLength="12" lengthAdjust="spacingAndGlyphs">Jun</text><text x="418.28" y="824" fill="#333" font-size="9.4" font-weight="normal" text-anchor="middle" textLength="18" lengthAdjust="spacingAndGlyphs" stroke="#333" stroke-width="0.35">2017</text><text x="486.99" y="824" fill="#666" font-size="9.0" font-weight="normal" text-anchor="middle" textLength="12" lengthAdjust="spacingAndGlyphs">Jun</text><text x="583.18" y="824" fill="#333" font-size="9.4" font-weight="normal" text-anchor="middle" textLength="18" lengthAdjust="spacingAndGlyphs" stroke="#333" stroke-width="0.35">2018</text><text x="651.88" y="824" fill="#666" font-size="9.0" font-weight="normal" text-anchor="middle" textLength="12" lengthAdjust="spacingAndGlyphs">Jun</text><text x="748.07" y="824" fill="#333" font-size="9.4" font-weight="normal" text-anchor="middle" textLength="18" lengthAdjust="spacingAndGlyphs" stroke="#333" stroke-width="0.35">2019</text><text x="816.77" y="824" fill="#666" font-size="9.0" font-weight="normal" text-anchor="middle" textLength="12" lengthAdjust="spacingAndGlyphs">Jun</text><text x="912.96" y="824" fill="#333" font-size="9.4" font-weight="normal" text-anchor="middle" textLength="18" lengthAdjust="spacingAndGlyphs" stroke="#333" stroke-width="0.35">2020</text><text x="981.66" y="824" fill="#666" font-size="9.0" font-weight="normal" text-anchor="middle" textLength="12" lengthAdjust="spacingAndGlyphs">Jun</text><text x="1077.85" y="824" fill="#333" font-size="9.4" font-weight="normal" text-anchor="middle" textLength="18" lengthAdjust="spacingAndGlyphs" stroke="#333" stroke-width="0.35">2021</text><text x="1146.56" y="824" fill="#666" font-size="9.0" font-weight="normal" text-anchor="middle" textLength="12" lengthAdjust="spacingAndGlyphs">Jun</text><text x="1242.74" y="824" fill="#333" font-size="9.4" font-weight="normal" text-anchor="middle" textLength="18" lengthAdjust="spacingAndGlyphs" stroke="#333" stroke-width="0.35">2022</text><text x="1311.45" y="824" fill="#666" font-size="9.0" font-weight="normal" text-anchor="middle" textLength="12" lengthAdjust="spacingAndGlyphs">Jun</text><text x="1407.64" y="824" fill="#333" font-size="9.4" font-weight="normal" text-anchor="middle" textLength="18" lengthAdjust="spacingAndGlyphs" stroke="#333" stroke-width="0.35">2023</text><text x="1476.34" y="824" fill="#666" font-size="9.0" font-weight="normal" text-anchor="middle" textLength="12" lengthAdjust="spacingAndGlyphs">Jun</text><text x="1572.53" y="824" fill="#333" font-size="9.4" font-weight="normal" text-anchor="middle" textLength="18" lengthAdjust="spacingAndGlyphs" stroke="#333" stroke-width="0.35">2024</text><text x="1641.23" y="824" fill="#666" font-size="9.0" font-weight="normal" text-anchor="middle" textLength="12" lengthAdjust="spacingAndGlyphs">Jun</text><text x="1737.42" y="824" fill="#333" font-size="9.4" font-weight="normal" text-anchor="middle" textLength="18" lengthAdjust="spacingAndGlyphs" stroke="#333" stroke-width="0.35">2025</text><text x="1806.12" y="824" fill="#666" font-size="9.0" font-weight="normal" text-anchor="middle" textLength="12" lengthAdjust="spacingAndGlyphs">Jun</text><text x="18.1" y="30.1" fill="#4a4a4a" font-size="12.4" font-weight="normal" text-anchor="start" textLength="149.5" lengthAdjust="spacingAndGlyphs">FOREX JPY=, 1M, NYS, Bid</text><text x="176" y="30.1" fill="#4a4a4a" font-size="12.4" font-weight="normal" text-anchor="start" textLength="9.8" lengthAdjust="spacingAndGlyphs">O</text><text x="186.6" y="30.1" fill="#5050ff" font-size="12.4" font-weight="normal" text-anchor="start" textLength="36.1" lengthAdjust="spacingAndGlyphs">150.74</text><text x="231.1" y="30.1" fill="#4a4a4a" font-size="12.4" font-weight="normal" text-anchor="start" textLength="8.4" lengthAdjust="spacingAndGlyphs">H</text><text x="240" y="30.1" fill="#5050ff" font-size="12.4" font-weight="normal" text-anchor="start" textLength="37" lengthAdjust="spacingAndGlyphs">150.91</text><text x="285.7" y="30.1" fill="#4a4a4a" font-size="12.4" font-weight="normal" text-anchor="start" textLength="6.5" lengthAdjust="spacingAndGlyphs">L</text><text x="292.7" y="30.1" fill="#5050ff" font-size="12.4" font-weight="normal" text-anchor="start" textLength="37.6" lengthAdjust="spacingAndGlyphs">146.60</text><text x="338.3" y="30.1" fill="#4a4a4a" font-size="12.4" font-weight="normal" text-anchor="start" textLength="6.7" lengthAdjust="spacingAndGlyphs">C</text><text x="345.4" y="30.1" fill="#5050ff" font-size="12.4" font-weight="normal" text-anchor="start" textLength="38.6" lengthAdjust="spacingAndGlyphs">147.39</text><text x="392.2" y="30.1" fill="#5050ff" font-size="12.4" font-weight="normal" text-anchor="start" textLength="82.2" lengthAdjust="spacingAndGlyphs">-3.35 (−2.22%)</text><text x="492.5" y="30.1" fill="#4a4a4a" font-size="12.4" font-weight="normal" text-anchor="start" textLength="89" lengthAdjust="spacingAndGlyphs">MA (4, close, 0)</text><text x="591" y="30.1" fill="#ff33ff" font-size="12.4" font-weight="normal" text-anchor="start" textLength="37.4" lengthAdjust="spacingAndGlyphs">146.54</text><text x="646.7" y="30.1" fill="#4a4a4a" font-size="12.4" font-weight="normal" text-anchor="start" textLength="89.3" lengthAdjust="spacingAndGlyphs">MA (9, close, 0)</text><text x="745" y="30.1" fill="#11bb11" font-size="12.4" font-weight="normal" text-anchor="start" textLength="37.8" lengthAdjust="spacingAndGlyphs">149.13</text><text x="800.8" y="30.1" fill="#4a4a4a" font-size="12.4" font-weight="normal" text-anchor="start" textLength="96.2" lengthAdjust="spacingAndGlyphs">MA (25, close, 0)</text><text x="906" y="30.1" fill="#b01048" font-size="12.4" font-weight="normal" text-anchor="start" textLength="37.7" lengthAdjust="spacingAndGlyphs">149.74</text><text x="961.7" y="30.1" fill="#4a4a4a" font-size="12.4" font-weight="normal" text-anchor="start" textLength="96.3" lengthAdjust="spacingAndGlyphs">MA (50, close, 0)</text><text x="1067.5" y="30.1" fill="#22c8c8" font-size="12.4" font-weight="normal" text-anchor="start" textLength="37.2" lengthAdjust="spacingAndGlyphs">139.18</text><text x="1122.4" y="30.1" fill="#4a4a4a" font-size="12.4" font-weight="normal" text-anchor="start" textLength="103.4" lengthAdjust="spacingAndGlyphs">MA (100, close, 0)</text><text x="1235.2" y="30.1" fill="#1a901a" font-size="12.4" font-weight="normal" text-anchor="start" textLength="37.2" lengthAdjust="spacingAndGlyphs">124.13</text><text x="1290.6" y="30.1" fill="#4a4a4a" font-size="12.4" font-weight="normal" text-anchor="start" textLength="102.6" lengthAdjust="spacingAndGlyphs">MA (250, close, 0)</text><text x="1402.7" y="30.1" fill="#ff5050" font-size="12.4" font-weight="normal" text-anchor="start" textLength="36.6" lengthAdjust="spacingAndGlyphs">110.92</text><text x="18.4" y="431.9" fill="#4a4a4a" font-size="12.4" font-weight="normal" text-anchor="start" textLength="181.6" lengthAdjust="spacingAndGlyphs">RSI (9, Exponential, Simple, 14)</text><text x="208.7" y="431.9" fill="#5a5aff" font-size="12.4" font-weight="normal" text-anchor="start" textLength="44.3" lengthAdjust="spacingAndGlyphs">47.4637</text><text x="261.4" y="431.9" fill="#2e8a62" font-size="12.4" font-weight="normal" text-anchor="start" textLength="44.6" lengthAdjust="spacingAndGlyphs">45.6439</text><text x="325" y="431.9" fill="#4a4a4a" font-size="12.4" font-weight="normal" text-anchor="start" textLength="188.8" lengthAdjust="spacingAndGlyphs">RSI (14, Exponential, Simple, 25)</text><text x="522.1" y="431.9" fill="#ff33ff" font-size="12.4" font-weight="normal" text-anchor="start" textLength="44.6" lengthAdjust="spacingAndGlyphs">47.9769</text><text x="575.6" y="431.9" fill="#666" font-size="12.4" font-weight="normal" text-anchor="start" textLength="44.2" lengthAdjust="spacingAndGlyphs">56.4743</text><text x="18" y="632.4" fill="#4a4a4a" font-size="12.4" font-weight="normal" text-anchor="start" textLength="186" lengthAdjust="spacingAndGlyphs">Stochastic Slow (5, 3, 3, Simple)</text><text x="212.9" y="632.4" fill="#5a5aff" font-size="12.4" font-weight="normal" text-anchor="start" textLength="37.6" lengthAdjust="spacingAndGlyphs">63.024</text><text x="258.8" y="632.4" fill="#ff33ff" font-size="12.4" font-weight="normal" text-anchor="start" textLength="37.6" lengthAdjust="spacingAndGlyphs">44.085</text><text x="1867.3" y="856.6" fill="#0414ff" font-size="16.2" font-weight="bold" text-anchor="start" textLength="38.3" lengthAdjust="spacingAndGlyphs">LSEG</text></g><g><path d="M1832.52 842.33 L1837.05 842.03 L1840.07 843.54 L1842.48 843.84 L1841.27 846.86 L1839.46 848.67 L1837.95 851.69 L1835.54 849.57 L1832.22 846.86ZM1841.88 844.45 L1850.32 844.14 L1852.13 845.95 L1851.53 849.88 L1850.32 852.89 L1850.32 855.61 L1847.31 857.12 L1844.29 856.51 L1842.78 854.10 L1840.97 850.18 L1840.67 847.46ZM1850.93 844.14 L1855.15 841.73 L1859.37 842.94 L1860.88 845.35 L1859.98 847.76 L1857.56 849.57 L1854.55 850.18 L1852.13 849.27ZM1854.55 850.48 L1856.96 851.08 L1858.17 854.10 L1857.56 857.12 L1856.05 857.72 L1855.15 854.70ZM1832.22 849.27 L1834.64 848.97 L1835.24 851.08 L1837.95 851.08 L1837.65 854.10 L1835.84 855.31 L1834.33 853.50 L1832.22 851.38Z" fill="#0a10ff"/><path d="M1834.03 852.89 L1837.05 852.89 L1836.75 854.70 L1834.33 854.10ZM1835.24 855.31 L1837.05 855.31 L1836.75 858.93 L1834.94 858.32ZM1837.95 856.81 L1841.27 857.12 L1839.76 859.83ZM1843.08 857.12 L1845.50 857.72 L1844.29 860.13 L1842.78 859.83ZM1846.10 858.93 L1849.12 857.72 L1847.91 860.74 L1846.10 860.74ZM1849.72 856.51 L1852.13 857.12 L1852.13 859.83 L1850.02 859.53ZM1851.83 856.81 L1853.34 857.12 L1852.43 858.02ZM1853.94 858.93 L1855.15 858.93 L1854.85 860.13 L1853.94 860.13ZM1859.07 849.57 L1860.88 849.88 L1859.67 854.10 L1858.17 853.50ZM1839.16 851.69 L1841.88 853.50 L1841.27 854.70 L1839.16 854.70Z" fill="#0a10ff" opacity="0.8"/><path d="M1838.56 849.27 L1840.67 850.18 L1842.48 854.10 L1839.46 854.10ZM1844.89 847.46 L1848.81 847.46 L1847.31 851.69 L1844.89 851.69ZM1852.13 850.48 L1855.15 850.18 L1854.55 854.10 L1852.43 854.10Z" fill="#ffffff" opacity="0.6"/></g></svg>
</body></html>
